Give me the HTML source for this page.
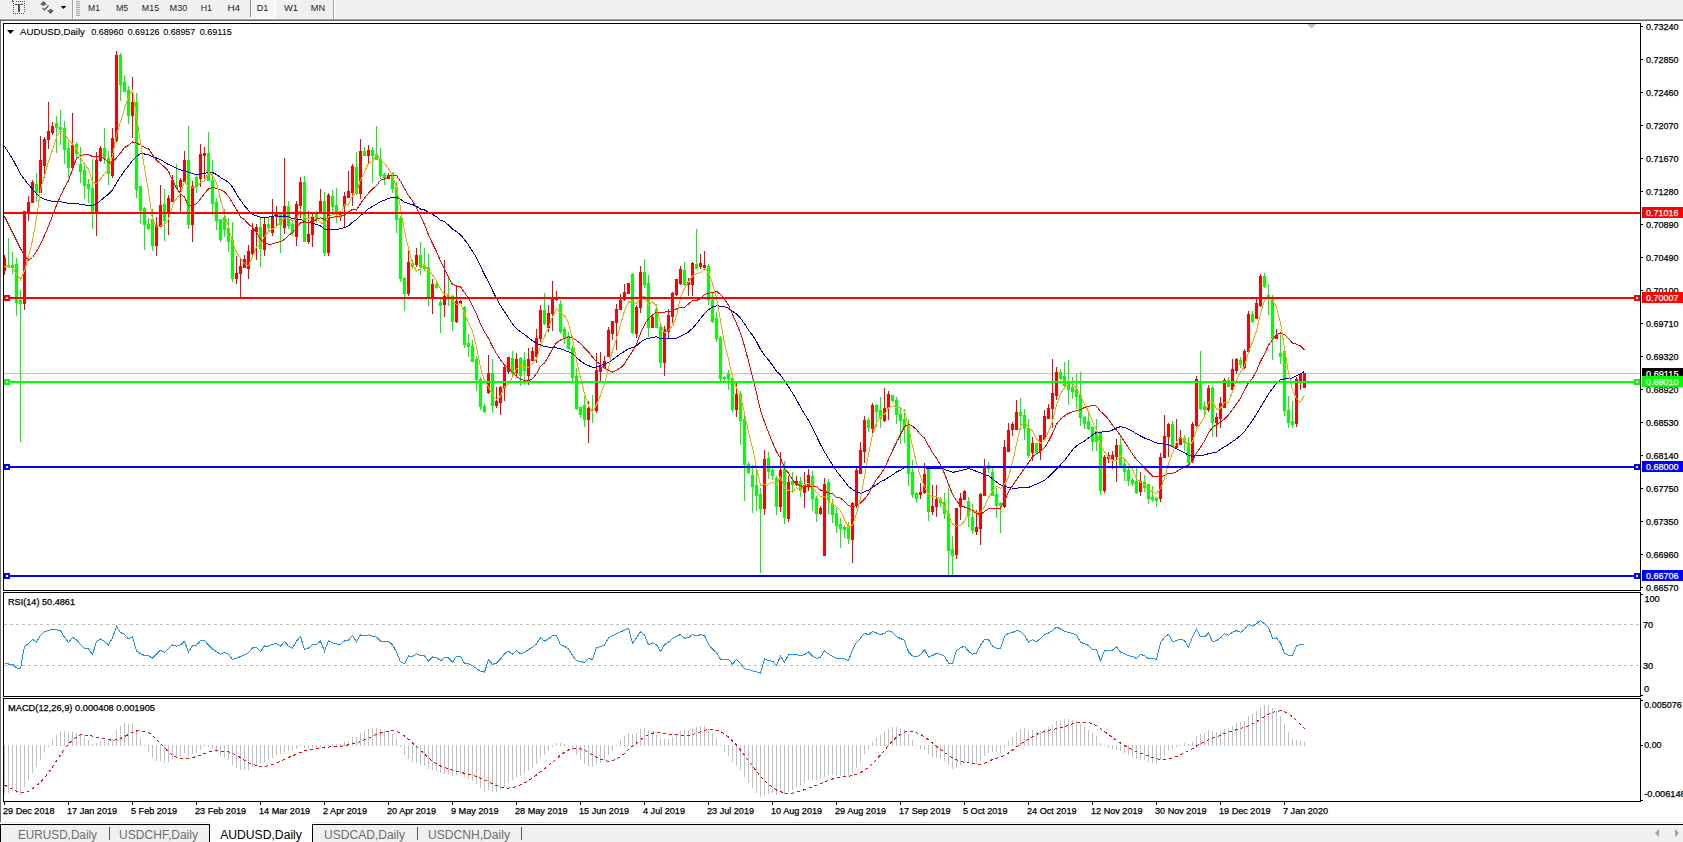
<!DOCTYPE html>
<html><head><meta charset="utf-8"><title>AUDUSD,Daily</title>
<style>html,body{margin:0;padding:0;background:#fff;overflow:hidden;width:1683px;height:842px}svg{display:block}</style>
</head><body>
<svg width="1683" height="842" viewBox="0 0 1683 842" font-family="&quot;Liberation Sans&quot;, sans-serif"><rect x="0" y="0" width="1683" height="842" fill="#ffffff"/>
<rect x="0" y="0" width="1683" height="19" fill="#f0f0f0"/>
<rect x="0" y="18" width="1683" height="1" fill="#f4f4f4"/>
<rect x="0" y="19" width="1683" height="1" fill="#a0a0a0"/>
<rect x="0" y="20" width="1683" height="1" fill="#696969"/>
<rect x="0" y="20" width="1" height="802" fill="#6e6e6e"/>
<rect x="0" y="822" width="1683" height="1" fill="#e3e3e3"/>
<rect x="0" y="824" width="1683" height="1" fill="#000000"/>
<rect x="0" y="825" width="1683" height="17" fill="#f0f0f0"/>
<rect x="16" y="1" width="1" height="1" fill="#555"/>
<rect x="18" y="1" width="1" height="1" fill="#555"/>
<rect x="20" y="1" width="1" height="1" fill="#555"/>
<rect x="22" y="1" width="1" height="1" fill="#555"/>
<rect x="24" y="1" width="1" height="1" fill="#555"/>
<rect x="13" y="13" width="1" height="1" fill="#555"/>
<rect x="15" y="13" width="1" height="1" fill="#555"/>
<rect x="17" y="13" width="1" height="1" fill="#555"/>
<rect x="19" y="13" width="1" height="1" fill="#555"/>
<rect x="21" y="13" width="1" height="1" fill="#555"/>
<rect x="23" y="13" width="1" height="1" fill="#555"/>
<rect x="13" y="3" width="1" height="1" fill="#555"/>
<rect x="13" y="5" width="1" height="1" fill="#555"/>
<rect x="13" y="7" width="1" height="1" fill="#555"/>
<rect x="13" y="9" width="1" height="1" fill="#555"/>
<rect x="13" y="11" width="1" height="1" fill="#555"/>
<rect x="24" y="3" width="1" height="1" fill="#555"/>
<rect x="24" y="5" width="1" height="1" fill="#555"/>
<rect x="24" y="7" width="1" height="1" fill="#555"/>
<rect x="24" y="9" width="1" height="1" fill="#555"/>
<rect x="24" y="11" width="1" height="1" fill="#555"/>
<rect x="12" y="0" width="1" height="2" fill="#555"/>
<rect x="12" y="1" width="2" height="1" fill="#555"/>
<rect x="15" y="4" width="8" height="1" fill="#555"/>
<rect x="18" y="4" width="2" height="8" fill="#555"/>
<polygon points="40,4.8 43.5,1 47,4.8" fill="#555"/>
<rect x="42.3" y="4.5" width="2.4" height="1.3" fill="#555"/>
<polyline points="42.5,8 44.5,10 48.5,5.5" fill="none" stroke="#555" stroke-width="1.2"/>
<polygon points="47,10.3 54,10.3 50.5,14" fill="#555"/>
<rect x="49.4" y="9.1" width="2.6" height="1.3" fill="#555"/>
<polygon points="60.5,6 66.5,6 63.5,9" fill="#111"/>
<rect x="72" y="0" width="1" height="19" fill="#a0a0a0"/>
<rect x="73" y="0" width="1" height="19" fill="#ffffff"/>
<rect x="76" y="1" width="4" height="1" fill="#a8a8a8"/>
<rect x="76" y="3" width="4" height="1" fill="#a8a8a8"/>
<rect x="76" y="5" width="4" height="1" fill="#a8a8a8"/>
<rect x="76" y="7" width="4" height="1" fill="#a8a8a8"/>
<rect x="76" y="9" width="4" height="1" fill="#a8a8a8"/>
<rect x="76" y="11" width="4" height="1" fill="#a8a8a8"/>
<rect x="76" y="13" width="4" height="1" fill="#a8a8a8"/>
<rect x="76" y="15" width="4" height="1" fill="#a8a8a8"/>
<rect x="250" y="0" width="1" height="17" fill="#8c8c8c"/>
<rect x="251" y="0" width="24" height="17" fill="#f5f5f5"/>
<rect x="250" y="17" width="26" height="1" fill="#ffffff"/>
<rect x="275" y="0" width="1" height="18" fill="#ffffff"/>
<rect x="333" y="0" width="1" height="19" fill="#a0a0a0"/>
<rect x="334" y="0" width="1" height="19" fill="#ffffff"/>
<text x="88" y="10.8" font-size="9.8" fill="#1c1c1c" textLength="12" lengthAdjust="spacingAndGlyphs">M1</text>
<text x="116" y="10.8" font-size="9.8" fill="#1c1c1c" textLength="12.2" lengthAdjust="spacingAndGlyphs">M5</text>
<text x="141.8" y="10.8" font-size="9.8" fill="#1c1c1c" textLength="17.3" lengthAdjust="spacingAndGlyphs">M15</text>
<text x="169.6" y="10.8" font-size="9.8" fill="#1c1c1c" textLength="17.7" lengthAdjust="spacingAndGlyphs">M30</text>
<text x="200.8" y="10.8" font-size="9.8" fill="#1c1c1c" textLength="11.2" lengthAdjust="spacingAndGlyphs">H1</text>
<text x="227.4" y="10.8" font-size="9.8" fill="#1c1c1c" textLength="12.7" lengthAdjust="spacingAndGlyphs">H4</text>
<text x="256.7" y="10.8" font-size="9.8" fill="#1c1c1c" textLength="11.6" lengthAdjust="spacingAndGlyphs">D1</text>
<text x="284.1" y="10.8" font-size="9.8" fill="#1c1c1c" textLength="13.9" lengthAdjust="spacingAndGlyphs">W1</text>
<text x="310.8" y="10.8" font-size="9.8" fill="#1c1c1c" textLength="14.2" lengthAdjust="spacingAndGlyphs">MN</text>
<g shape-rendering="crispEdges">
<rect x="4" y="373" width="1636" height="1" fill="#c0c0c0"/>
</g>
<g shape-rendering="crispEdges">
<rect x="4" y="255" width="1" height="20" fill="#ff0000"/>
<rect x="3" y="258" width="3" height="13" fill="#ff0000"/>
<rect x="8" y="238" width="1" height="30" fill="#00ff00"/>
<rect x="7" y="265" width="3" height="2" fill="#00ff00"/>
<rect x="12" y="252" width="1" height="22" fill="#00ff00"/>
<rect x="11" y="265" width="3" height="3" fill="#00ff00"/>
<rect x="16" y="258" width="1" height="58" fill="#00ff00"/>
<rect x="15" y="264" width="3" height="39" fill="#00ff00"/>
<rect x="20" y="290" width="1" height="152" fill="#00ff00"/>
<rect x="19" y="300" width="3" height="4" fill="#00ff00"/>
<rect x="24" y="211" width="1" height="99" fill="#ff0000"/>
<rect x="23" y="211" width="3" height="93" fill="#ff0000"/>
<rect x="28" y="196" width="1" height="25" fill="#ff0000"/>
<rect x="27" y="202" width="3" height="12" fill="#ff0000"/>
<rect x="32" y="180" width="1" height="23" fill="#ff0000"/>
<rect x="31" y="182" width="3" height="21" fill="#ff0000"/>
<rect x="36" y="173" width="1" height="29" fill="#00ff00"/>
<rect x="35" y="184" width="3" height="9" fill="#00ff00"/>
<rect x="40" y="136" width="1" height="57" fill="#ff0000"/>
<rect x="39" y="160" width="3" height="33" fill="#ff0000"/>
<rect x="44" y="137" width="1" height="41" fill="#ff0000"/>
<rect x="43" y="139" width="3" height="27" fill="#ff0000"/>
<rect x="48" y="102" width="1" height="47" fill="#ff0000"/>
<rect x="47" y="131" width="3" height="9" fill="#ff0000"/>
<rect x="52" y="122" width="1" height="13" fill="#ff0000"/>
<rect x="51" y="126" width="3" height="7" fill="#ff0000"/>
<rect x="56" y="116" width="1" height="37" fill="#00ff00"/>
<rect x="55" y="123" width="3" height="5" fill="#00ff00"/>
<rect x="60" y="110" width="1" height="35" fill="#00ff00"/>
<rect x="59" y="127" width="3" height="3" fill="#00ff00"/>
<rect x="64" y="121" width="1" height="43" fill="#00ff00"/>
<rect x="63" y="128" width="3" height="22" fill="#00ff00"/>
<rect x="68" y="142" width="1" height="36" fill="#00ff00"/>
<rect x="67" y="148" width="3" height="20" fill="#00ff00"/>
<rect x="72" y="113" width="1" height="55" fill="#ff0000"/>
<rect x="71" y="145" width="3" height="23" fill="#ff0000"/>
<rect x="76" y="142" width="1" height="18" fill="#00ff00"/>
<rect x="75" y="144" width="3" height="10" fill="#00ff00"/>
<rect x="80" y="147" width="1" height="36" fill="#00ff00"/>
<rect x="79" y="164" width="3" height="8" fill="#00ff00"/>
<rect x="84" y="163" width="1" height="36" fill="#00ff00"/>
<rect x="83" y="170" width="3" height="16" fill="#00ff00"/>
<rect x="88" y="179" width="1" height="24" fill="#00ff00"/>
<rect x="87" y="184" width="3" height="5" fill="#00ff00"/>
<rect x="92" y="159" width="1" height="70" fill="#00ff00"/>
<rect x="91" y="188" width="3" height="25" fill="#00ff00"/>
<rect x="96" y="152" width="1" height="84" fill="#ff0000"/>
<rect x="95" y="160" width="3" height="53" fill="#ff0000"/>
<rect x="100" y="146" width="1" height="16" fill="#ff0000"/>
<rect x="99" y="148" width="3" height="13" fill="#ff0000"/>
<rect x="104" y="128" width="1" height="36" fill="#00ff00"/>
<rect x="103" y="148" width="3" height="10" fill="#00ff00"/>
<rect x="108" y="151" width="1" height="34" fill="#00ff00"/>
<rect x="107" y="158" width="3" height="16" fill="#00ff00"/>
<rect x="112" y="128" width="1" height="50" fill="#ff0000"/>
<rect x="111" y="138" width="3" height="38" fill="#ff0000"/>
<rect x="116" y="51" width="1" height="91" fill="#ff0000"/>
<rect x="115" y="55" width="3" height="86" fill="#ff0000"/>
<rect x="120" y="53" width="1" height="48" fill="#00ff00"/>
<rect x="119" y="55" width="3" height="30" fill="#00ff00"/>
<rect x="124" y="75" width="1" height="17" fill="#00ff00"/>
<rect x="123" y="82" width="3" height="10" fill="#00ff00"/>
<rect x="128" y="86" width="1" height="38" fill="#00ff00"/>
<rect x="127" y="90" width="3" height="26" fill="#00ff00"/>
<rect x="132" y="77" width="1" height="61" fill="#ff0000"/>
<rect x="131" y="102" width="3" height="14" fill="#ff0000"/>
<rect x="136" y="93" width="1" height="105" fill="#00ff00"/>
<rect x="135" y="102" width="3" height="88" fill="#00ff00"/>
<rect x="140" y="186" width="1" height="38" fill="#00ff00"/>
<rect x="139" y="186" width="3" height="25" fill="#00ff00"/>
<rect x="144" y="207" width="1" height="43" fill="#00ff00"/>
<rect x="143" y="208" width="3" height="17" fill="#00ff00"/>
<rect x="148" y="218" width="1" height="12" fill="#00ff00"/>
<rect x="147" y="224" width="3" height="5" fill="#00ff00"/>
<rect x="152" y="209" width="1" height="42" fill="#00ff00"/>
<rect x="151" y="219" width="3" height="27" fill="#00ff00"/>
<rect x="156" y="217" width="1" height="39" fill="#ff0000"/>
<rect x="155" y="225" width="3" height="21" fill="#ff0000"/>
<rect x="160" y="185" width="1" height="42" fill="#ff0000"/>
<rect x="159" y="205" width="3" height="22" fill="#ff0000"/>
<rect x="164" y="189" width="1" height="52" fill="#00ff00"/>
<rect x="163" y="204" width="3" height="17" fill="#00ff00"/>
<rect x="168" y="195" width="1" height="40" fill="#ff0000"/>
<rect x="167" y="198" width="3" height="16" fill="#ff0000"/>
<rect x="172" y="175" width="1" height="27" fill="#ff0000"/>
<rect x="171" y="180" width="3" height="22" fill="#ff0000"/>
<rect x="176" y="164" width="1" height="24" fill="#00ff00"/>
<rect x="175" y="185" width="3" height="3" fill="#00ff00"/>
<rect x="180" y="178" width="1" height="35" fill="#ff0000"/>
<rect x="179" y="180" width="3" height="7" fill="#ff0000"/>
<rect x="184" y="151" width="1" height="31" fill="#ff0000"/>
<rect x="183" y="160" width="3" height="22" fill="#ff0000"/>
<rect x="188" y="126" width="1" height="103" fill="#00ff00"/>
<rect x="187" y="160" width="3" height="65" fill="#00ff00"/>
<rect x="192" y="181" width="1" height="61" fill="#ff0000"/>
<rect x="191" y="186" width="3" height="39" fill="#ff0000"/>
<rect x="196" y="175" width="1" height="18" fill="#00ff00"/>
<rect x="195" y="177" width="3" height="10" fill="#00ff00"/>
<rect x="200" y="144" width="1" height="43" fill="#ff0000"/>
<rect x="199" y="154" width="3" height="25" fill="#ff0000"/>
<rect x="204" y="147" width="1" height="32" fill="#ff0000"/>
<rect x="203" y="153" width="3" height="3" fill="#ff0000"/>
<rect x="208" y="132" width="1" height="49" fill="#00ff00"/>
<rect x="207" y="153" width="3" height="28" fill="#00ff00"/>
<rect x="212" y="160" width="1" height="55" fill="#00ff00"/>
<rect x="211" y="180" width="3" height="24" fill="#00ff00"/>
<rect x="216" y="198" width="1" height="32" fill="#00ff00"/>
<rect x="215" y="202" width="3" height="19" fill="#00ff00"/>
<rect x="220" y="219" width="1" height="23" fill="#00ff00"/>
<rect x="219" y="219" width="3" height="21" fill="#00ff00"/>
<rect x="224" y="209" width="1" height="28" fill="#00ff00"/>
<rect x="223" y="217" width="3" height="13" fill="#00ff00"/>
<rect x="228" y="218" width="1" height="34" fill="#00ff00"/>
<rect x="227" y="228" width="3" height="14" fill="#00ff00"/>
<rect x="232" y="222" width="1" height="60" fill="#00ff00"/>
<rect x="231" y="240" width="3" height="39" fill="#00ff00"/>
<rect x="236" y="256" width="1" height="28" fill="#ff0000"/>
<rect x="235" y="273" width="3" height="6" fill="#ff0000"/>
<rect x="240" y="257" width="1" height="42" fill="#ff0000"/>
<rect x="239" y="266" width="3" height="8" fill="#ff0000"/>
<rect x="244" y="255" width="1" height="13" fill="#ff0000"/>
<rect x="243" y="259" width="3" height="9" fill="#ff0000"/>
<rect x="248" y="245" width="1" height="34" fill="#ff0000"/>
<rect x="247" y="251" width="3" height="18" fill="#ff0000"/>
<rect x="252" y="223" width="1" height="32" fill="#ff0000"/>
<rect x="251" y="230" width="3" height="24" fill="#ff0000"/>
<rect x="256" y="224" width="1" height="36" fill="#ff0000"/>
<rect x="255" y="227" width="3" height="5" fill="#ff0000"/>
<rect x="260" y="217" width="1" height="50" fill="#00ff00"/>
<rect x="259" y="227" width="3" height="22" fill="#00ff00"/>
<rect x="264" y="218" width="1" height="38" fill="#ff0000"/>
<rect x="263" y="224" width="3" height="26" fill="#ff0000"/>
<rect x="268" y="218" width="1" height="13" fill="#00ff00"/>
<rect x="267" y="224" width="3" height="4" fill="#00ff00"/>
<rect x="272" y="199" width="1" height="37" fill="#ff0000"/>
<rect x="271" y="217" width="3" height="16" fill="#ff0000"/>
<rect x="276" y="206" width="1" height="20" fill="#ff0000"/>
<rect x="275" y="214" width="3" height="3" fill="#ff0000"/>
<rect x="280" y="213" width="1" height="40" fill="#00ff00"/>
<rect x="279" y="214" width="3" height="11" fill="#00ff00"/>
<rect x="284" y="158" width="1" height="76" fill="#ff0000"/>
<rect x="283" y="206" width="3" height="22" fill="#ff0000"/>
<rect x="288" y="201" width="1" height="28" fill="#00ff00"/>
<rect x="287" y="206" width="3" height="20" fill="#00ff00"/>
<rect x="292" y="220" width="1" height="16" fill="#00ff00"/>
<rect x="291" y="224" width="3" height="9" fill="#00ff00"/>
<rect x="296" y="201" width="1" height="45" fill="#ff0000"/>
<rect x="295" y="204" width="3" height="33" fill="#ff0000"/>
<rect x="300" y="177" width="1" height="41" fill="#ff0000"/>
<rect x="299" y="182" width="3" height="24" fill="#ff0000"/>
<rect x="304" y="176" width="1" height="66" fill="#00ff00"/>
<rect x="303" y="182" width="3" height="60" fill="#00ff00"/>
<rect x="308" y="211" width="1" height="33" fill="#ff0000"/>
<rect x="307" y="234" width="3" height="8" fill="#ff0000"/>
<rect x="312" y="213" width="1" height="34" fill="#ff0000"/>
<rect x="311" y="217" width="3" height="18" fill="#ff0000"/>
<rect x="316" y="211" width="1" height="12" fill="#00ff00"/>
<rect x="315" y="212" width="3" height="6" fill="#00ff00"/>
<rect x="320" y="189" width="1" height="23" fill="#ff0000"/>
<rect x="319" y="201" width="3" height="11" fill="#ff0000"/>
<rect x="324" y="192" width="1" height="64" fill="#00ff00"/>
<rect x="323" y="201" width="3" height="52" fill="#00ff00"/>
<rect x="328" y="193" width="1" height="63" fill="#ff0000"/>
<rect x="327" y="195" width="3" height="58" fill="#ff0000"/>
<rect x="332" y="190" width="1" height="22" fill="#00ff00"/>
<rect x="331" y="196" width="3" height="11" fill="#00ff00"/>
<rect x="336" y="188" width="1" height="35" fill="#00ff00"/>
<rect x="335" y="205" width="3" height="8" fill="#00ff00"/>
<rect x="340" y="211" width="1" height="10" fill="#ff0000"/>
<rect x="339" y="213" width="3" height="3" fill="#ff0000"/>
<rect x="344" y="192" width="1" height="35" fill="#ff0000"/>
<rect x="343" y="196" width="3" height="10" fill="#ff0000"/>
<rect x="348" y="171" width="1" height="27" fill="#ff0000"/>
<rect x="347" y="191" width="3" height="7" fill="#ff0000"/>
<rect x="352" y="164" width="1" height="42" fill="#ff0000"/>
<rect x="351" y="166" width="3" height="27" fill="#ff0000"/>
<rect x="356" y="152" width="1" height="43" fill="#00ff00"/>
<rect x="355" y="167" width="3" height="27" fill="#00ff00"/>
<rect x="360" y="139" width="1" height="60" fill="#ff0000"/>
<rect x="359" y="151" width="3" height="43" fill="#ff0000"/>
<rect x="364" y="147" width="1" height="9" fill="#00ff00"/>
<rect x="363" y="151" width="3" height="5" fill="#00ff00"/>
<rect x="368" y="145" width="1" height="18" fill="#ff0000"/>
<rect x="367" y="150" width="3" height="6" fill="#ff0000"/>
<rect x="372" y="147" width="1" height="36" fill="#00ff00"/>
<rect x="371" y="150" width="3" height="6" fill="#00ff00"/>
<rect x="376" y="126" width="1" height="34" fill="#00ff00"/>
<rect x="375" y="154" width="3" height="6" fill="#00ff00"/>
<rect x="380" y="148" width="1" height="31" fill="#00ff00"/>
<rect x="379" y="159" width="3" height="17" fill="#00ff00"/>
<rect x="384" y="173" width="1" height="12" fill="#00ff00"/>
<rect x="383" y="174" width="3" height="4" fill="#00ff00"/>
<rect x="388" y="173" width="1" height="6" fill="#ff0000"/>
<rect x="387" y="175" width="3" height="4" fill="#ff0000"/>
<rect x="392" y="172" width="1" height="21" fill="#00ff00"/>
<rect x="391" y="173" width="3" height="16" fill="#00ff00"/>
<rect x="396" y="182" width="1" height="51" fill="#00ff00"/>
<rect x="395" y="187" width="3" height="33" fill="#00ff00"/>
<rect x="400" y="216" width="1" height="66" fill="#00ff00"/>
<rect x="399" y="218" width="3" height="61" fill="#00ff00"/>
<rect x="404" y="277" width="1" height="34" fill="#00ff00"/>
<rect x="403" y="278" width="3" height="16" fill="#00ff00"/>
<rect x="408" y="250" width="1" height="46" fill="#ff0000"/>
<rect x="407" y="262" width="3" height="32" fill="#ff0000"/>
<rect x="412" y="260" width="1" height="9" fill="#00ff00"/>
<rect x="411" y="263" width="3" height="4" fill="#00ff00"/>
<rect x="416" y="248" width="1" height="19" fill="#ff0000"/>
<rect x="415" y="255" width="3" height="10" fill="#ff0000"/>
<rect x="420" y="242" width="1" height="33" fill="#00ff00"/>
<rect x="419" y="255" width="3" height="12" fill="#00ff00"/>
<rect x="424" y="248" width="1" height="23" fill="#00ff00"/>
<rect x="423" y="265" width="3" height="4" fill="#00ff00"/>
<rect x="428" y="254" width="1" height="52" fill="#00ff00"/>
<rect x="427" y="267" width="3" height="32" fill="#00ff00"/>
<rect x="432" y="279" width="1" height="35" fill="#ff0000"/>
<rect x="431" y="284" width="3" height="15" fill="#ff0000"/>
<rect x="436" y="282" width="1" height="7" fill="#00ff00"/>
<rect x="435" y="284" width="3" height="4" fill="#00ff00"/>
<rect x="440" y="298" width="1" height="35" fill="#00ff00"/>
<rect x="439" y="302" width="3" height="4" fill="#00ff00"/>
<rect x="444" y="260" width="1" height="57" fill="#ff0000"/>
<rect x="443" y="296" width="3" height="9" fill="#ff0000"/>
<rect x="448" y="278" width="1" height="28" fill="#00ff00"/>
<rect x="447" y="295" width="3" height="3" fill="#00ff00"/>
<rect x="452" y="295" width="1" height="36" fill="#00ff00"/>
<rect x="451" y="296" width="3" height="26" fill="#00ff00"/>
<rect x="456" y="285" width="1" height="38" fill="#ff0000"/>
<rect x="455" y="301" width="3" height="21" fill="#ff0000"/>
<rect x="460" y="300" width="1" height="5" fill="#ff0000"/>
<rect x="459" y="301" width="3" height="3" fill="#ff0000"/>
<rect x="464" y="306" width="1" height="42" fill="#00ff00"/>
<rect x="463" y="307" width="3" height="38" fill="#00ff00"/>
<rect x="468" y="334" width="1" height="23" fill="#00ff00"/>
<rect x="467" y="343" width="3" height="4" fill="#00ff00"/>
<rect x="472" y="340" width="1" height="22" fill="#00ff00"/>
<rect x="471" y="346" width="3" height="16" fill="#00ff00"/>
<rect x="476" y="356" width="1" height="35" fill="#00ff00"/>
<rect x="475" y="359" width="3" height="21" fill="#00ff00"/>
<rect x="480" y="377" width="1" height="33" fill="#00ff00"/>
<rect x="479" y="379" width="3" height="28" fill="#00ff00"/>
<rect x="484" y="404" width="1" height="9" fill="#00ff00"/>
<rect x="483" y="406" width="3" height="6" fill="#00ff00"/>
<rect x="488" y="355" width="1" height="39" fill="#ff0000"/>
<rect x="487" y="373" width="3" height="20" fill="#ff0000"/>
<rect x="492" y="359" width="1" height="54" fill="#00ff00"/>
<rect x="491" y="373" width="3" height="33" fill="#00ff00"/>
<rect x="496" y="387" width="1" height="21" fill="#ff0000"/>
<rect x="495" y="401" width="3" height="5" fill="#ff0000"/>
<rect x="500" y="386" width="1" height="29" fill="#ff0000"/>
<rect x="499" y="387" width="3" height="16" fill="#ff0000"/>
<rect x="504" y="366" width="1" height="35" fill="#ff0000"/>
<rect x="503" y="367" width="3" height="21" fill="#ff0000"/>
<rect x="508" y="357" width="1" height="17" fill="#ff0000"/>
<rect x="507" y="357" width="3" height="15" fill="#ff0000"/>
<rect x="512" y="351" width="1" height="25" fill="#00ff00"/>
<rect x="511" y="358" width="3" height="15" fill="#00ff00"/>
<rect x="516" y="353" width="1" height="23" fill="#ff0000"/>
<rect x="515" y="359" width="3" height="14" fill="#ff0000"/>
<rect x="520" y="357" width="1" height="29" fill="#00ff00"/>
<rect x="519" y="358" width="3" height="18" fill="#00ff00"/>
<rect x="524" y="352" width="1" height="33" fill="#00ff00"/>
<rect x="523" y="360" width="3" height="11" fill="#00ff00"/>
<rect x="528" y="348" width="1" height="37" fill="#ff0000"/>
<rect x="527" y="359" width="3" height="17" fill="#ff0000"/>
<rect x="532" y="347" width="1" height="14" fill="#ff0000"/>
<rect x="531" y="351" width="3" height="10" fill="#ff0000"/>
<rect x="536" y="329" width="1" height="34" fill="#ff0000"/>
<rect x="535" y="338" width="3" height="19" fill="#ff0000"/>
<rect x="540" y="305" width="1" height="37" fill="#ff0000"/>
<rect x="539" y="310" width="3" height="29" fill="#ff0000"/>
<rect x="544" y="293" width="1" height="32" fill="#00ff00"/>
<rect x="543" y="310" width="3" height="14" fill="#00ff00"/>
<rect x="548" y="305" width="1" height="27" fill="#ff0000"/>
<rect x="547" y="313" width="3" height="15" fill="#ff0000"/>
<rect x="552" y="281" width="1" height="50" fill="#ff0000"/>
<rect x="551" y="298" width="3" height="16" fill="#ff0000"/>
<rect x="556" y="291" width="1" height="10" fill="#ff0000"/>
<rect x="555" y="297" width="3" height="3" fill="#ff0000"/>
<rect x="560" y="300" width="1" height="34" fill="#00ff00"/>
<rect x="559" y="304" width="3" height="28" fill="#00ff00"/>
<rect x="564" y="327" width="1" height="17" fill="#00ff00"/>
<rect x="563" y="329" width="3" height="9" fill="#00ff00"/>
<rect x="568" y="332" width="1" height="17" fill="#00ff00"/>
<rect x="567" y="336" width="3" height="13" fill="#00ff00"/>
<rect x="572" y="346" width="1" height="36" fill="#00ff00"/>
<rect x="571" y="348" width="3" height="30" fill="#00ff00"/>
<rect x="576" y="368" width="1" height="42" fill="#00ff00"/>
<rect x="575" y="376" width="3" height="33" fill="#00ff00"/>
<rect x="580" y="407" width="1" height="11" fill="#00ff00"/>
<rect x="579" y="407" width="3" height="8" fill="#00ff00"/>
<rect x="584" y="396" width="1" height="31" fill="#00ff00"/>
<rect x="583" y="405" width="3" height="15" fill="#00ff00"/>
<rect x="588" y="401" width="1" height="42" fill="#ff0000"/>
<rect x="587" y="408" width="3" height="12" fill="#ff0000"/>
<rect x="592" y="395" width="1" height="28" fill="#00ff00"/>
<rect x="591" y="409" width="3" height="2" fill="#00ff00"/>
<rect x="596" y="353" width="1" height="60" fill="#ff0000"/>
<rect x="595" y="370" width="3" height="41" fill="#ff0000"/>
<rect x="600" y="352" width="1" height="30" fill="#ff0000"/>
<rect x="599" y="367" width="3" height="5" fill="#ff0000"/>
<rect x="604" y="356" width="1" height="13" fill="#ff0000"/>
<rect x="603" y="361" width="3" height="7" fill="#ff0000"/>
<rect x="608" y="327" width="1" height="30" fill="#ff0000"/>
<rect x="607" y="330" width="3" height="27" fill="#ff0000"/>
<rect x="612" y="321" width="1" height="19" fill="#ff0000"/>
<rect x="611" y="321" width="3" height="13" fill="#ff0000"/>
<rect x="616" y="304" width="1" height="46" fill="#ff0000"/>
<rect x="615" y="309" width="3" height="14" fill="#ff0000"/>
<rect x="620" y="294" width="1" height="16" fill="#ff0000"/>
<rect x="619" y="300" width="3" height="10" fill="#ff0000"/>
<rect x="624" y="284" width="1" height="17" fill="#ff0000"/>
<rect x="623" y="292" width="3" height="8" fill="#ff0000"/>
<rect x="628" y="283" width="1" height="11" fill="#ff0000"/>
<rect x="627" y="283" width="3" height="11" fill="#ff0000"/>
<rect x="632" y="273" width="1" height="61" fill="#00ff00"/>
<rect x="631" y="274" width="3" height="59" fill="#00ff00"/>
<rect x="636" y="305" width="1" height="33" fill="#ff0000"/>
<rect x="635" y="307" width="3" height="27" fill="#ff0000"/>
<rect x="640" y="266" width="1" height="47" fill="#ff0000"/>
<rect x="639" y="272" width="3" height="36" fill="#ff0000"/>
<rect x="644" y="259" width="1" height="29" fill="#00ff00"/>
<rect x="643" y="272" width="3" height="13" fill="#00ff00"/>
<rect x="648" y="275" width="1" height="62" fill="#00ff00"/>
<rect x="647" y="283" width="3" height="45" fill="#00ff00"/>
<rect x="652" y="316" width="1" height="12" fill="#ff0000"/>
<rect x="651" y="317" width="3" height="11" fill="#ff0000"/>
<rect x="656" y="304" width="1" height="24" fill="#00ff00"/>
<rect x="655" y="309" width="3" height="19" fill="#00ff00"/>
<rect x="660" y="324" width="1" height="44" fill="#00ff00"/>
<rect x="659" y="327" width="3" height="36" fill="#00ff00"/>
<rect x="664" y="326" width="1" height="50" fill="#ff0000"/>
<rect x="663" y="329" width="3" height="34" fill="#ff0000"/>
<rect x="668" y="309" width="1" height="30" fill="#ff0000"/>
<rect x="667" y="315" width="3" height="17" fill="#ff0000"/>
<rect x="672" y="292" width="1" height="31" fill="#ff0000"/>
<rect x="671" y="293" width="3" height="24" fill="#ff0000"/>
<rect x="676" y="279" width="1" height="17" fill="#ff0000"/>
<rect x="675" y="279" width="3" height="16" fill="#ff0000"/>
<rect x="680" y="266" width="1" height="19" fill="#ff0000"/>
<rect x="679" y="269" width="3" height="15" fill="#ff0000"/>
<rect x="684" y="262" width="1" height="24" fill="#00ff00"/>
<rect x="683" y="270" width="3" height="15" fill="#00ff00"/>
<rect x="688" y="278" width="1" height="18" fill="#ff0000"/>
<rect x="687" y="282" width="3" height="3" fill="#ff0000"/>
<rect x="692" y="262" width="1" height="34" fill="#ff0000"/>
<rect x="691" y="263" width="3" height="22" fill="#ff0000"/>
<rect x="696" y="229" width="1" height="40" fill="#00ff00"/>
<rect x="695" y="264" width="3" height="5" fill="#00ff00"/>
<rect x="700" y="254" width="1" height="15" fill="#ff0000"/>
<rect x="699" y="263" width="3" height="4" fill="#ff0000"/>
<rect x="704" y="251" width="1" height="19" fill="#ff0000"/>
<rect x="703" y="265" width="3" height="3" fill="#ff0000"/>
<rect x="708" y="264" width="1" height="41" fill="#00ff00"/>
<rect x="707" y="266" width="3" height="34" fill="#00ff00"/>
<rect x="712" y="293" width="1" height="30" fill="#00ff00"/>
<rect x="711" y="300" width="3" height="22" fill="#00ff00"/>
<rect x="716" y="312" width="1" height="30" fill="#00ff00"/>
<rect x="715" y="318" width="3" height="21" fill="#00ff00"/>
<rect x="720" y="336" width="1" height="46" fill="#00ff00"/>
<rect x="719" y="338" width="3" height="41" fill="#00ff00"/>
<rect x="724" y="376" width="1" height="6" fill="#00ff00"/>
<rect x="723" y="377" width="3" height="2" fill="#00ff00"/>
<rect x="728" y="370" width="1" height="20" fill="#00ff00"/>
<rect x="727" y="374" width="3" height="5" fill="#00ff00"/>
<rect x="732" y="376" width="1" height="36" fill="#00ff00"/>
<rect x="731" y="378" width="3" height="32" fill="#00ff00"/>
<rect x="736" y="383" width="1" height="34" fill="#ff0000"/>
<rect x="735" y="394" width="3" height="16" fill="#ff0000"/>
<rect x="740" y="391" width="1" height="54" fill="#00ff00"/>
<rect x="739" y="394" width="3" height="27" fill="#00ff00"/>
<rect x="744" y="416" width="1" height="85" fill="#00ff00"/>
<rect x="743" y="419" width="3" height="46" fill="#00ff00"/>
<rect x="748" y="462" width="1" height="12" fill="#00ff00"/>
<rect x="747" y="464" width="3" height="9" fill="#00ff00"/>
<rect x="752" y="465" width="1" height="48" fill="#00ff00"/>
<rect x="751" y="475" width="3" height="12" fill="#00ff00"/>
<rect x="756" y="470" width="1" height="41" fill="#00ff00"/>
<rect x="755" y="485" width="3" height="11" fill="#00ff00"/>
<rect x="760" y="488" width="1" height="85" fill="#00ff00"/>
<rect x="759" y="494" width="3" height="15" fill="#00ff00"/>
<rect x="764" y="450" width="1" height="65" fill="#ff0000"/>
<rect x="763" y="459" width="3" height="50" fill="#ff0000"/>
<rect x="768" y="452" width="1" height="27" fill="#00ff00"/>
<rect x="767" y="458" width="3" height="14" fill="#00ff00"/>
<rect x="772" y="468" width="1" height="12" fill="#00ff00"/>
<rect x="771" y="470" width="3" height="6" fill="#00ff00"/>
<rect x="776" y="476" width="1" height="39" fill="#00ff00"/>
<rect x="775" y="478" width="3" height="29" fill="#00ff00"/>
<rect x="780" y="452" width="1" height="60" fill="#ff0000"/>
<rect x="779" y="470" width="3" height="37" fill="#ff0000"/>
<rect x="784" y="461" width="1" height="63" fill="#00ff00"/>
<rect x="783" y="469" width="3" height="49" fill="#00ff00"/>
<rect x="788" y="476" width="1" height="46" fill="#ff0000"/>
<rect x="787" y="482" width="3" height="37" fill="#ff0000"/>
<rect x="792" y="472" width="1" height="19" fill="#00ff00"/>
<rect x="791" y="481" width="3" height="4" fill="#00ff00"/>
<rect x="796" y="476" width="1" height="10" fill="#ff0000"/>
<rect x="795" y="481" width="3" height="4" fill="#ff0000"/>
<rect x="800" y="477" width="1" height="20" fill="#00ff00"/>
<rect x="799" y="481" width="3" height="10" fill="#00ff00"/>
<rect x="804" y="472" width="1" height="36" fill="#ff0000"/>
<rect x="803" y="485" width="3" height="8" fill="#ff0000"/>
<rect x="808" y="469" width="1" height="22" fill="#ff0000"/>
<rect x="807" y="475" width="3" height="11" fill="#ff0000"/>
<rect x="812" y="471" width="1" height="40" fill="#00ff00"/>
<rect x="811" y="476" width="3" height="23" fill="#00ff00"/>
<rect x="816" y="496" width="1" height="26" fill="#00ff00"/>
<rect x="815" y="498" width="3" height="16" fill="#00ff00"/>
<rect x="820" y="506" width="1" height="9" fill="#ff0000"/>
<rect x="819" y="508" width="3" height="6" fill="#ff0000"/>
<rect x="824" y="478" width="1" height="78" fill="#ff0000"/>
<rect x="823" y="484" width="3" height="72" fill="#ff0000"/>
<rect x="828" y="479" width="1" height="35" fill="#00ff00"/>
<rect x="827" y="482" width="3" height="19" fill="#00ff00"/>
<rect x="832" y="499" width="1" height="24" fill="#00ff00"/>
<rect x="831" y="504" width="3" height="11" fill="#00ff00"/>
<rect x="836" y="508" width="1" height="25" fill="#00ff00"/>
<rect x="835" y="513" width="3" height="13" fill="#00ff00"/>
<rect x="840" y="518" width="1" height="30" fill="#00ff00"/>
<rect x="839" y="524" width="3" height="5" fill="#00ff00"/>
<rect x="844" y="525" width="1" height="13" fill="#00ff00"/>
<rect x="843" y="527" width="3" height="3" fill="#00ff00"/>
<rect x="848" y="522" width="1" height="22" fill="#00ff00"/>
<rect x="847" y="527" width="3" height="12" fill="#00ff00"/>
<rect x="852" y="502" width="1" height="61" fill="#ff0000"/>
<rect x="851" y="503" width="3" height="37" fill="#ff0000"/>
<rect x="856" y="468" width="1" height="40" fill="#ff0000"/>
<rect x="855" y="470" width="3" height="36" fill="#ff0000"/>
<rect x="860" y="442" width="1" height="32" fill="#ff0000"/>
<rect x="859" y="450" width="3" height="24" fill="#ff0000"/>
<rect x="864" y="416" width="1" height="47" fill="#ff0000"/>
<rect x="863" y="420" width="3" height="32" fill="#ff0000"/>
<rect x="868" y="418" width="1" height="14" fill="#00ff00"/>
<rect x="867" y="420" width="3" height="8" fill="#00ff00"/>
<rect x="872" y="403" width="1" height="32" fill="#ff0000"/>
<rect x="871" y="405" width="3" height="24" fill="#ff0000"/>
<rect x="876" y="404" width="1" height="23" fill="#00ff00"/>
<rect x="875" y="405" width="3" height="7" fill="#00ff00"/>
<rect x="880" y="397" width="1" height="31" fill="#00ff00"/>
<rect x="879" y="410" width="3" height="9" fill="#00ff00"/>
<rect x="884" y="388" width="1" height="34" fill="#ff0000"/>
<rect x="883" y="408" width="3" height="13" fill="#ff0000"/>
<rect x="888" y="391" width="1" height="29" fill="#ff0000"/>
<rect x="887" y="394" width="3" height="14" fill="#ff0000"/>
<rect x="892" y="395" width="1" height="7" fill="#00ff00"/>
<rect x="891" y="395" width="3" height="6" fill="#00ff00"/>
<rect x="896" y="397" width="1" height="27" fill="#00ff00"/>
<rect x="895" y="400" width="3" height="15" fill="#00ff00"/>
<rect x="900" y="408" width="1" height="36" fill="#00ff00"/>
<rect x="899" y="414" width="3" height="7" fill="#00ff00"/>
<rect x="904" y="409" width="1" height="34" fill="#00ff00"/>
<rect x="903" y="419" width="3" height="8" fill="#00ff00"/>
<rect x="908" y="419" width="1" height="67" fill="#00ff00"/>
<rect x="907" y="426" width="3" height="48" fill="#00ff00"/>
<rect x="912" y="460" width="1" height="38" fill="#00ff00"/>
<rect x="911" y="472" width="3" height="23" fill="#00ff00"/>
<rect x="916" y="492" width="1" height="11" fill="#00ff00"/>
<rect x="915" y="493" width="3" height="6" fill="#00ff00"/>
<rect x="920" y="483" width="1" height="16" fill="#ff0000"/>
<rect x="919" y="492" width="3" height="3" fill="#ff0000"/>
<rect x="924" y="463" width="1" height="31" fill="#ff0000"/>
<rect x="923" y="474" width="3" height="19" fill="#ff0000"/>
<rect x="928" y="467" width="1" height="54" fill="#00ff00"/>
<rect x="927" y="469" width="3" height="43" fill="#00ff00"/>
<rect x="932" y="485" width="1" height="30" fill="#ff0000"/>
<rect x="931" y="506" width="3" height="6" fill="#ff0000"/>
<rect x="936" y="485" width="1" height="32" fill="#ff0000"/>
<rect x="935" y="499" width="3" height="8" fill="#ff0000"/>
<rect x="940" y="497" width="1" height="10" fill="#00ff00"/>
<rect x="939" y="499" width="3" height="4" fill="#00ff00"/>
<rect x="944" y="493" width="1" height="26" fill="#00ff00"/>
<rect x="943" y="502" width="3" height="12" fill="#00ff00"/>
<rect x="948" y="488" width="1" height="88" fill="#00ff00"/>
<rect x="947" y="513" width="3" height="38" fill="#00ff00"/>
<rect x="952" y="536" width="1" height="40" fill="#00ff00"/>
<rect x="951" y="549" width="3" height="7" fill="#00ff00"/>
<rect x="956" y="508" width="1" height="51" fill="#ff0000"/>
<rect x="955" y="508" width="3" height="47" fill="#ff0000"/>
<rect x="960" y="493" width="1" height="27" fill="#ff0000"/>
<rect x="959" y="498" width="3" height="9" fill="#ff0000"/>
<rect x="964" y="490" width="1" height="10" fill="#ff0000"/>
<rect x="963" y="491" width="3" height="9" fill="#ff0000"/>
<rect x="968" y="497" width="1" height="30" fill="#00ff00"/>
<rect x="967" y="501" width="3" height="15" fill="#00ff00"/>
<rect x="972" y="504" width="1" height="30" fill="#00ff00"/>
<rect x="971" y="517" width="3" height="14" fill="#00ff00"/>
<rect x="976" y="510" width="1" height="25" fill="#ff0000"/>
<rect x="975" y="527" width="3" height="5" fill="#ff0000"/>
<rect x="980" y="493" width="1" height="52" fill="#ff0000"/>
<rect x="979" y="494" width="3" height="35" fill="#ff0000"/>
<rect x="984" y="459" width="1" height="37" fill="#ff0000"/>
<rect x="983" y="466" width="3" height="30" fill="#ff0000"/>
<rect x="988" y="462" width="1" height="11" fill="#00ff00"/>
<rect x="987" y="465" width="3" height="4" fill="#00ff00"/>
<rect x="992" y="468" width="1" height="28" fill="#00ff00"/>
<rect x="991" y="472" width="3" height="24" fill="#00ff00"/>
<rect x="996" y="488" width="1" height="30" fill="#00ff00"/>
<rect x="995" y="494" width="3" height="12" fill="#00ff00"/>
<rect x="1000" y="502" width="1" height="31" fill="#00ff00"/>
<rect x="999" y="503" width="3" height="3" fill="#00ff00"/>
<rect x="1004" y="440" width="1" height="68" fill="#ff0000"/>
<rect x="1003" y="447" width="3" height="60" fill="#ff0000"/>
<rect x="1008" y="423" width="1" height="29" fill="#ff0000"/>
<rect x="1007" y="430" width="3" height="22" fill="#ff0000"/>
<rect x="1012" y="422" width="1" height="14" fill="#ff0000"/>
<rect x="1011" y="424" width="3" height="6" fill="#ff0000"/>
<rect x="1016" y="400" width="1" height="30" fill="#ff0000"/>
<rect x="1015" y="412" width="3" height="18" fill="#ff0000"/>
<rect x="1020" y="398" width="1" height="32" fill="#00ff00"/>
<rect x="1019" y="412" width="3" height="4" fill="#00ff00"/>
<rect x="1024" y="409" width="1" height="31" fill="#00ff00"/>
<rect x="1023" y="415" width="3" height="14" fill="#00ff00"/>
<rect x="1028" y="419" width="1" height="39" fill="#00ff00"/>
<rect x="1027" y="428" width="3" height="28" fill="#00ff00"/>
<rect x="1032" y="437" width="1" height="24" fill="#ff0000"/>
<rect x="1031" y="443" width="3" height="10" fill="#ff0000"/>
<rect x="1036" y="443" width="1" height="11" fill="#00ff00"/>
<rect x="1035" y="443" width="3" height="10" fill="#00ff00"/>
<rect x="1040" y="435" width="1" height="25" fill="#ff0000"/>
<rect x="1039" y="435" width="3" height="16" fill="#ff0000"/>
<rect x="1044" y="410" width="1" height="30" fill="#ff0000"/>
<rect x="1043" y="416" width="3" height="24" fill="#ff0000"/>
<rect x="1048" y="404" width="1" height="15" fill="#ff0000"/>
<rect x="1047" y="408" width="3" height="11" fill="#ff0000"/>
<rect x="1052" y="359" width="1" height="69" fill="#ff0000"/>
<rect x="1051" y="393" width="3" height="16" fill="#ff0000"/>
<rect x="1056" y="367" width="1" height="33" fill="#ff0000"/>
<rect x="1055" y="372" width="3" height="24" fill="#ff0000"/>
<rect x="1060" y="369" width="1" height="11" fill="#00ff00"/>
<rect x="1059" y="372" width="3" height="7" fill="#00ff00"/>
<rect x="1064" y="362" width="1" height="25" fill="#00ff00"/>
<rect x="1063" y="376" width="3" height="10" fill="#00ff00"/>
<rect x="1068" y="360" width="1" height="45" fill="#00ff00"/>
<rect x="1067" y="383" width="3" height="7" fill="#00ff00"/>
<rect x="1072" y="377" width="1" height="22" fill="#00ff00"/>
<rect x="1071" y="387" width="3" height="5" fill="#00ff00"/>
<rect x="1076" y="374" width="1" height="35" fill="#00ff00"/>
<rect x="1075" y="389" width="3" height="8" fill="#00ff00"/>
<rect x="1080" y="372" width="1" height="54" fill="#00ff00"/>
<rect x="1079" y="395" width="3" height="23" fill="#00ff00"/>
<rect x="1084" y="416" width="1" height="13" fill="#00ff00"/>
<rect x="1083" y="417" width="3" height="7" fill="#00ff00"/>
<rect x="1088" y="413" width="1" height="17" fill="#00ff00"/>
<rect x="1087" y="421" width="3" height="8" fill="#00ff00"/>
<rect x="1092" y="426" width="1" height="25" fill="#00ff00"/>
<rect x="1091" y="427" width="3" height="15" fill="#00ff00"/>
<rect x="1096" y="419" width="1" height="32" fill="#00ff00"/>
<rect x="1095" y="431" width="3" height="11" fill="#00ff00"/>
<rect x="1100" y="431" width="1" height="64" fill="#00ff00"/>
<rect x="1099" y="433" width="3" height="58" fill="#00ff00"/>
<rect x="1104" y="455" width="1" height="38" fill="#ff0000"/>
<rect x="1103" y="457" width="3" height="34" fill="#ff0000"/>
<rect x="1108" y="452" width="1" height="11" fill="#ff0000"/>
<rect x="1107" y="455" width="3" height="4" fill="#ff0000"/>
<rect x="1112" y="451" width="1" height="18" fill="#ff0000"/>
<rect x="1111" y="455" width="3" height="5" fill="#ff0000"/>
<rect x="1116" y="439" width="1" height="43" fill="#ff0000"/>
<rect x="1115" y="445" width="3" height="12" fill="#ff0000"/>
<rect x="1120" y="438" width="1" height="29" fill="#00ff00"/>
<rect x="1119" y="445" width="3" height="21" fill="#00ff00"/>
<rect x="1124" y="458" width="1" height="23" fill="#00ff00"/>
<rect x="1123" y="464" width="3" height="8" fill="#00ff00"/>
<rect x="1128" y="467" width="1" height="19" fill="#00ff00"/>
<rect x="1127" y="470" width="3" height="11" fill="#00ff00"/>
<rect x="1132" y="478" width="1" height="8" fill="#00ff00"/>
<rect x="1131" y="480" width="3" height="4" fill="#00ff00"/>
<rect x="1136" y="468" width="1" height="26" fill="#00ff00"/>
<rect x="1135" y="481" width="3" height="12" fill="#00ff00"/>
<rect x="1140" y="472" width="1" height="24" fill="#ff0000"/>
<rect x="1139" y="481" width="3" height="11" fill="#ff0000"/>
<rect x="1144" y="475" width="1" height="17" fill="#00ff00"/>
<rect x="1143" y="482" width="3" height="6" fill="#00ff00"/>
<rect x="1148" y="484" width="1" height="20" fill="#00ff00"/>
<rect x="1147" y="484" width="3" height="15" fill="#00ff00"/>
<rect x="1152" y="486" width="1" height="16" fill="#00ff00"/>
<rect x="1151" y="497" width="3" height="3" fill="#00ff00"/>
<rect x="1156" y="497" width="1" height="10" fill="#00ff00"/>
<rect x="1155" y="498" width="3" height="3" fill="#00ff00"/>
<rect x="1160" y="453" width="1" height="49" fill="#ff0000"/>
<rect x="1159" y="457" width="3" height="42" fill="#ff0000"/>
<rect x="1164" y="415" width="1" height="43" fill="#ff0000"/>
<rect x="1163" y="436" width="3" height="22" fill="#ff0000"/>
<rect x="1168" y="423" width="1" height="34" fill="#ff0000"/>
<rect x="1167" y="424" width="3" height="13" fill="#ff0000"/>
<rect x="1172" y="421" width="1" height="26" fill="#00ff00"/>
<rect x="1171" y="424" width="3" height="23" fill="#00ff00"/>
<rect x="1176" y="419" width="1" height="30" fill="#ff0000"/>
<rect x="1175" y="443" width="3" height="5" fill="#ff0000"/>
<rect x="1180" y="430" width="1" height="15" fill="#ff0000"/>
<rect x="1179" y="437" width="3" height="8" fill="#ff0000"/>
<rect x="1184" y="435" width="1" height="16" fill="#00ff00"/>
<rect x="1183" y="438" width="3" height="5" fill="#00ff00"/>
<rect x="1188" y="437" width="1" height="30" fill="#00ff00"/>
<rect x="1187" y="443" width="3" height="20" fill="#00ff00"/>
<rect x="1192" y="422" width="1" height="41" fill="#ff0000"/>
<rect x="1191" y="424" width="3" height="37" fill="#ff0000"/>
<rect x="1196" y="376" width="1" height="51" fill="#ff0000"/>
<rect x="1195" y="379" width="3" height="47" fill="#ff0000"/>
<rect x="1200" y="351" width="1" height="59" fill="#00ff00"/>
<rect x="1199" y="382" width="3" height="27" fill="#00ff00"/>
<rect x="1204" y="401" width="1" height="14" fill="#00ff00"/>
<rect x="1203" y="406" width="3" height="4" fill="#00ff00"/>
<rect x="1208" y="385" width="1" height="27" fill="#ff0000"/>
<rect x="1207" y="388" width="3" height="22" fill="#ff0000"/>
<rect x="1212" y="386" width="1" height="51" fill="#00ff00"/>
<rect x="1211" y="388" width="3" height="35" fill="#00ff00"/>
<rect x="1216" y="413" width="1" height="24" fill="#ff0000"/>
<rect x="1215" y="417" width="3" height="6" fill="#ff0000"/>
<rect x="1220" y="397" width="1" height="31" fill="#ff0000"/>
<rect x="1219" y="403" width="3" height="16" fill="#ff0000"/>
<rect x="1224" y="378" width="1" height="30" fill="#ff0000"/>
<rect x="1223" y="380" width="3" height="28" fill="#ff0000"/>
<rect x="1228" y="377" width="1" height="10" fill="#00ff00"/>
<rect x="1227" y="380" width="3" height="7" fill="#00ff00"/>
<rect x="1232" y="359" width="1" height="32" fill="#ff0000"/>
<rect x="1231" y="369" width="3" height="21" fill="#ff0000"/>
<rect x="1236" y="358" width="1" height="16" fill="#ff0000"/>
<rect x="1235" y="359" width="3" height="12" fill="#ff0000"/>
<rect x="1240" y="357" width="1" height="11" fill="#00ff00"/>
<rect x="1239" y="360" width="3" height="5" fill="#00ff00"/>
<rect x="1244" y="349" width="1" height="20" fill="#ff0000"/>
<rect x="1243" y="351" width="3" height="17" fill="#ff0000"/>
<rect x="1248" y="311" width="1" height="41" fill="#ff0000"/>
<rect x="1247" y="314" width="3" height="38" fill="#ff0000"/>
<rect x="1252" y="311" width="1" height="12" fill="#00ff00"/>
<rect x="1251" y="314" width="3" height="8" fill="#00ff00"/>
<rect x="1256" y="299" width="1" height="20" fill="#ff0000"/>
<rect x="1255" y="303" width="3" height="16" fill="#ff0000"/>
<rect x="1260" y="274" width="1" height="33" fill="#ff0000"/>
<rect x="1259" y="276" width="3" height="30" fill="#ff0000"/>
<rect x="1264" y="273" width="1" height="15" fill="#00ff00"/>
<rect x="1263" y="276" width="3" height="11" fill="#00ff00"/>
<rect x="1268" y="284" width="1" height="31" fill="#00ff00"/>
<rect x="1267" y="295" width="3" height="3" fill="#00ff00"/>
<rect x="1272" y="295" width="1" height="65" fill="#00ff00"/>
<rect x="1271" y="298" width="3" height="41" fill="#00ff00"/>
<rect x="1276" y="329" width="1" height="10" fill="#ff0000"/>
<rect x="1275" y="335" width="3" height="4" fill="#ff0000"/>
<rect x="1280" y="335" width="1" height="29" fill="#00ff00"/>
<rect x="1279" y="353" width="3" height="4" fill="#00ff00"/>
<rect x="1284" y="351" width="1" height="65" fill="#00ff00"/>
<rect x="1283" y="351" width="3" height="60" fill="#00ff00"/>
<rect x="1288" y="396" width="1" height="32" fill="#00ff00"/>
<rect x="1287" y="410" width="3" height="13" fill="#00ff00"/>
<rect x="1292" y="401" width="1" height="27" fill="#00ff00"/>
<rect x="1291" y="421" width="3" height="4" fill="#00ff00"/>
<rect x="1296" y="377" width="1" height="50" fill="#ff0000"/>
<rect x="1295" y="379" width="3" height="45" fill="#ff0000"/>
<rect x="1300" y="373" width="1" height="17" fill="#ff0000"/>
<rect x="1299" y="374" width="3" height="7" fill="#ff0000"/>
<rect x="1304" y="373" width="1" height="15" fill="#ff0000"/>
<rect x="1303" y="373" width="3" height="15" fill="#ff0000"/>
</g>
<g>
<polyline points="4.5,146.3 8.5,152.5 12.5,158.7 16.5,166.3 20.5,174.3 24.5,179.5 28.5,184.6 32.5,189.1 36.5,193.9 40.5,197.2 44.5,199.3 48.5,200.6 52.5,201.3 56.5,201.7 60.5,201.8 64.5,202.4 68.5,203.4 72.5,203.5 76.5,203.7 80.5,204.2 84.5,205.0 88.5,205.5 92.5,206.0 96.5,203.9 100.5,200.6 104.5,197.2 108.5,194.2 112.5,190.1 116.5,182.8 120.5,176.5 124.5,170.9 128.5,165.9 132.5,160.4 136.5,156.6 140.5,153.5 144.5,154.0 148.5,154.8 152.5,156.9 156.5,158.0 160.5,159.5 164.5,162.2 168.5,164.5 172.5,166.3 176.5,168.3 180.5,170.0 184.5,170.3 188.5,172.2 192.5,173.6 196.5,174.7 200.5,174.1 204.5,173.1 208.5,172.8 212.5,172.5 216.5,174.5 220.5,177.5 224.5,179.9 228.5,182.2 232.5,186.9 236.5,194.1 240.5,200.2 244.5,205.8 248.5,210.3 252.5,214.6 256.5,215.9 260.5,217.1 264.5,217.1 268.5,217.1 272.5,216.2 276.5,215.8 280.5,216.4 284.5,216.0 288.5,216.9 292.5,218.6 296.5,219.2 300.5,219.2 304.5,221.9 308.5,222.3 312.5,223.3 316.5,224.3 320.5,225.9 324.5,229.2 328.5,229.7 332.5,229.8 336.5,229.5 340.5,228.7 344.5,227.6 348.5,225.9 352.5,222.2 356.5,219.5 360.5,215.7 364.5,212.2 368.5,208.8 372.5,206.3 376.5,204.1 380.5,201.6 384.5,200.1 388.5,198.3 392.5,197.4 396.5,197.5 400.5,199.3 404.5,202.2 408.5,203.5 412.5,204.6 416.5,206.3 420.5,209.1 424.5,210.0 428.5,212.1 432.5,214.4 436.5,216.7 440.5,220.2 444.5,221.6 448.5,225.0 452.5,228.9 456.5,231.8 460.5,234.8 464.5,239.7 468.5,244.9 472.5,251.4 476.5,257.6 480.5,266.1 484.5,274.6 488.5,282.0 492.5,290.4 496.5,298.4 500.5,305.5 504.5,311.8 508.5,317.9 512.5,324.0 516.5,328.7 520.5,331.9 524.5,334.5 528.5,337.7 532.5,340.6 536.5,343.3 540.5,344.8 544.5,346.6 548.5,347.1 552.5,347.6 556.5,347.9 560.5,348.8 564.5,350.2 568.5,351.9 572.5,353.7 576.5,357.3 580.5,361.1 584.5,363.6 588.5,365.6 592.5,367.3 596.5,367.0 600.5,365.7 604.5,364.0 608.5,362.6 612.5,359.8 616.5,356.7 620.5,353.8 624.5,351.3 628.5,348.8 632.5,347.5 636.5,345.8 640.5,342.3 644.5,339.5 648.5,338.4 652.5,337.3 656.5,336.9 660.5,338.6 664.5,338.8 668.5,338.9 672.5,338.7 676.5,338.1 680.5,336.1 684.5,334.3 688.5,332.1 692.5,328.3 696.5,323.6 700.5,318.6 704.5,313.5 708.5,309.8 712.5,306.9 716.5,305.8 720.5,306.2 724.5,306.7 728.5,308.3 732.5,311.3 736.5,314.1 740.5,318.1 744.5,323.8 748.5,330.1 752.5,335.3 756.5,341.5 760.5,349.4 764.5,355.2 768.5,360.0 772.5,365.3 776.5,371.3 780.5,374.9 784.5,381.1 788.5,386.7 792.5,393.1 796.5,399.8 800.5,407.2 804.5,413.9 808.5,420.3 812.5,428.1 816.5,436.3 820.5,444.5 824.5,451.8 828.5,458.5 832.5,464.9 836.5,471.1 840.5,476.1 844.5,481.2 848.5,486.5 852.5,489.6 856.5,492.2 860.5,493.2 864.5,491.7 868.5,490.2 872.5,487.5 876.5,484.7 880.5,481.7 884.5,480.0 888.5,477.4 892.5,474.9 896.5,471.9 900.5,470.2 904.5,467.2 908.5,466.9 912.5,467.2 916.5,467.8 920.5,467.8 924.5,467.5 928.5,468.7 932.5,468.9 936.5,468.5 940.5,468.3 944.5,469.2 948.5,470.9 952.5,472.3 956.5,471.7 960.5,470.7 964.5,469.4 968.5,468.7 972.5,469.6 976.5,471.5 980.5,472.9 984.5,474.5 988.5,475.8 992.5,478.8 996.5,482.0 1000.5,484.9 1004.5,486.2 1008.5,487.4 1012.5,488.2 1016.5,488.1 1020.5,487.9 1024.5,488.0 1028.5,487.4 1032.5,485.7 1036.5,484.2 1040.5,482.3 1044.5,480.3 1048.5,476.9 1052.5,473.1 1056.5,468.9 1060.5,464.8 1064.5,460.5 1068.5,455.1 1072.5,449.7 1076.5,445.9 1080.5,443.2 1084.5,441.0 1088.5,438.1 1092.5,435.1 1096.5,432.2 1100.5,432.1 1104.5,431.8 1108.5,431.4 1112.5,430.0 1116.5,428.0 1120.5,426.7 1124.5,427.5 1128.5,429.2 1132.5,431.1 1136.5,433.8 1140.5,436.0 1144.5,438.0 1148.5,439.4 1152.5,441.3 1156.5,442.9 1160.5,443.6 1164.5,444.3 1168.5,444.8 1172.5,446.6 1176.5,448.9 1180.5,450.9 1184.5,452.8 1188.5,455.2 1192.5,456.3 1196.5,455.8 1200.5,455.5 1204.5,455.0 1208.5,453.7 1212.5,453.0 1216.5,452.2 1220.5,449.3 1224.5,446.8 1228.5,444.5 1232.5,441.6 1236.5,438.7 1240.5,435.4 1244.5,431.4 1248.5,425.8 1252.5,420.4 1256.5,414.1 1260.5,407.3 1264.5,400.6 1268.5,393.9 1272.5,388.5 1276.5,383.0 1280.5,379.7 1284.5,378.8 1288.5,378.7 1292.5,378.0 1296.5,375.9 1300.5,373.8 1304.5,371.5" fill="none" stroke="#0000c8" stroke-width="1" shape-rendering="crispEdges"/>
<polyline points="4.5,216.5 8.5,224.5 12.5,232.5 16.5,240.5 20.5,248.5 24.5,256.0 28.5,260.0 32.5,257.5 36.5,251.5 40.5,244.4 44.5,235.5 48.5,226.2 52.5,215.7 56.5,205.2 60.5,196.0 64.5,187.6 68.5,180.5 72.5,169.3 76.5,158.6 80.5,155.7 84.5,154.5 88.5,154.9 92.5,156.4 96.5,156.4 100.5,157.0 104.5,158.9 108.5,162.2 112.5,163.0 116.5,157.7 120.5,153.1 124.5,147.6 128.5,145.5 132.5,141.9 136.5,143.1 140.5,144.9 144.5,147.5 148.5,148.6 152.5,154.7 156.5,160.2 160.5,163.6 164.5,167.0 168.5,171.3 172.5,180.2 176.5,187.6 180.5,193.9 184.5,197.1 188.5,205.9 192.5,205.6 196.5,203.9 200.5,198.9 204.5,193.6 208.5,188.9 212.5,187.4 216.5,188.4 220.5,189.8 224.5,192.0 228.5,196.4 232.5,202.9 236.5,209.5 240.5,217.1 244.5,219.6 248.5,224.2 252.5,227.4 256.5,232.6 260.5,239.4 264.5,242.5 268.5,244.2 272.5,244.0 276.5,242.2 280.5,241.9 284.5,239.4 288.5,235.6 292.5,232.6 296.5,228.2 300.5,222.7 304.5,222.0 308.5,222.3 312.5,221.6 316.5,219.4 320.5,217.7 324.5,219.5 328.5,217.9 332.5,217.4 336.5,216.5 340.5,217.0 344.5,214.9 348.5,212.0 352.5,209.3 356.5,210.1 360.5,203.6 364.5,198.0 368.5,193.2 372.5,188.8 376.5,185.8 380.5,180.3 384.5,179.0 388.5,176.8 392.5,175.1 396.5,175.5 400.5,181.4 404.5,188.6 408.5,195.5 412.5,200.7 416.5,208.1 420.5,216.1 424.5,224.5 428.5,234.7 432.5,243.6 436.5,251.6 440.5,260.8 444.5,269.4 448.5,277.2 452.5,284.5 456.5,286.1 460.5,286.7 464.5,292.6 468.5,298.3 472.5,305.9 476.5,313.9 480.5,323.8 484.5,331.9 488.5,338.2 492.5,346.6 496.5,353.5 500.5,360.0 504.5,365.0 508.5,367.6 512.5,372.6 516.5,376.8 520.5,379.0 524.5,380.7 528.5,380.6 532.5,378.6 536.5,373.7 540.5,366.5 544.5,362.9 548.5,356.4 552.5,349.0 556.5,342.6 560.5,340.0 564.5,338.6 568.5,336.9 572.5,338.1 576.5,340.5 580.5,343.6 584.5,347.9 588.5,352.0 592.5,357.1 596.5,361.4 600.5,364.6 604.5,368.0 608.5,370.3 612.5,372.0 616.5,370.4 620.5,367.8 624.5,363.8 628.5,357.1 632.5,351.6 636.5,344.0 640.5,333.5 644.5,324.6 648.5,318.7 652.5,314.9 656.5,312.1 660.5,312.1 664.5,312.1 668.5,311.6 672.5,310.5 676.5,309.0 680.5,307.4 684.5,307.4 688.5,303.9 692.5,300.7 696.5,300.4 700.5,298.9 704.5,294.5 708.5,293.2 712.5,292.8 716.5,291.1 720.5,294.6 724.5,299.1 728.5,305.1 732.5,314.4 736.5,323.4 740.5,333.1 744.5,346.1 748.5,361.0 752.5,376.6 756.5,393.1 760.5,410.5 764.5,421.9 768.5,432.6 772.5,442.4 776.5,451.6 780.5,458.1 784.5,468.1 788.5,473.3 792.5,479.7 796.5,484.1 800.5,485.9 804.5,486.9 808.5,486.1 812.5,486.3 816.5,486.6 820.5,490.1 824.5,491.1 828.5,492.9 832.5,493.4 836.5,497.4 840.5,498.1 844.5,501.5 848.5,505.4 852.5,506.9 856.5,505.5 860.5,503.0 864.5,499.1 868.5,494.0 872.5,486.3 876.5,479.4 880.5,474.6 884.5,468.1 888.5,459.5 892.5,450.6 896.5,442.4 900.5,434.6 904.5,426.6 908.5,424.5 912.5,426.2 916.5,429.6 920.5,434.8 924.5,438.1 928.5,445.7 932.5,452.5 936.5,458.3 940.5,465.0 944.5,473.5 948.5,484.2 952.5,494.3 956.5,500.6 960.5,505.7 964.5,507.0 968.5,508.5 972.5,510.8 976.5,513.3 980.5,514.7 984.5,511.5 988.5,508.8 992.5,508.5 996.5,508.7 1000.5,508.1 1004.5,500.8 1008.5,491.9 1012.5,485.9 1016.5,479.7 1020.5,474.3 1024.5,468.1 1028.5,462.7 1032.5,456.7 1036.5,453.7 1040.5,451.5 1044.5,447.8 1048.5,441.6 1052.5,433.6 1056.5,424.1 1060.5,419.1 1064.5,415.9 1068.5,413.4 1072.5,411.9 1076.5,410.6 1080.5,409.8 1084.5,407.5 1088.5,406.4 1092.5,405.6 1096.5,406.1 1100.5,411.4 1104.5,414.9 1108.5,419.3 1112.5,425.2 1116.5,430.0 1120.5,435.7 1124.5,441.6 1128.5,447.9 1132.5,454.1 1136.5,459.5 1140.5,463.6 1144.5,467.9 1148.5,471.9 1152.5,476.1 1156.5,476.8 1160.5,476.8 1164.5,475.4 1168.5,473.2 1172.5,473.3 1176.5,471.7 1180.5,469.3 1184.5,466.6 1188.5,465.1 1192.5,460.2 1196.5,452.9 1200.5,447.3 1204.5,440.9 1208.5,433.0 1212.5,427.4 1216.5,424.6 1220.5,422.2 1224.5,419.1 1228.5,414.8 1232.5,409.5 1236.5,403.9 1240.5,398.4 1244.5,390.4 1248.5,382.6 1252.5,378.4 1256.5,370.9 1260.5,361.4 1264.5,354.1 1268.5,345.2 1272.5,339.6 1276.5,334.7 1280.5,333.0 1284.5,334.7 1288.5,338.5 1292.5,343.1 1296.5,344.2 1300.5,345.9 1304.5,350.1" fill="none" stroke="#ff0000" stroke-width="1" shape-rendering="crispEdges"/>
<polyline points="4.5,266.3 8.5,267.0 12.5,268.1 16.5,274.0 20.5,279.7 24.5,270.3 28.5,257.5 32.5,240.5 36.5,218.5 40.5,189.9 44.5,175.5 48.5,161.3 52.5,150.1 56.5,137.1 60.5,130.9 64.5,132.9 68.5,140.1 72.5,143.9 76.5,149.1 80.5,157.5 84.5,164.7 88.5,168.9 92.5,182.3 96.5,183.7 100.5,179.1 104.5,173.5 108.5,170.5 112.5,155.7 116.5,134.7 120.5,121.9 124.5,108.7 128.5,97.1 132.5,89.9 136.5,116.7 140.5,141.9 144.5,168.5 148.5,191.1 152.5,219.7 156.5,226.9 160.5,225.9 164.5,225.1 168.5,219.1 172.5,206.1 176.5,198.5 180.5,193.5 184.5,181.5 188.5,186.7 192.5,187.9 196.5,187.7 200.5,182.5 204.5,181.1 208.5,172.3 212.5,175.7 216.5,182.5 220.5,199.5 224.5,214.7 228.5,226.9 232.5,241.9 236.5,252.5 240.5,257.9 244.5,263.9 248.5,265.9 252.5,256.3 256.5,247.1 260.5,243.5 264.5,236.5 268.5,231.7 272.5,229.1 276.5,226.5 280.5,221.7 284.5,218.1 288.5,217.7 292.5,220.7 296.5,218.7 300.5,210.3 304.5,217.3 308.5,219.1 312.5,216.1 316.5,218.7 320.5,222.5 324.5,224.7 328.5,216.9 332.5,214.7 336.5,213.7 340.5,216.1 344.5,204.9 348.5,204.1 352.5,196.1 356.5,192.3 360.5,179.9 364.5,171.7 368.5,163.5 372.5,161.3 376.5,154.5 380.5,159.3 384.5,163.7 388.5,168.7 392.5,175.3 396.5,187.3 400.5,207.9 404.5,231.1 408.5,248.5 412.5,264.1 416.5,271.3 420.5,268.9 424.5,263.9 428.5,271.1 432.5,274.7 436.5,281.1 440.5,288.9 444.5,294.5 448.5,294.3 452.5,301.7 456.5,304.5 460.5,303.7 464.5,313.3 468.5,323.1 472.5,331.1 476.5,346.7 480.5,367.7 484.5,381.1 488.5,386.5 492.5,395.3 496.5,399.7 500.5,395.9 504.5,387.1 508.5,383.9 512.5,377.3 516.5,368.9 520.5,366.5 524.5,367.1 528.5,367.5 532.5,363.3 536.5,359.1 540.5,346.1 544.5,336.7 548.5,327.5 552.5,316.9 556.5,308.7 560.5,312.9 564.5,315.7 568.5,322.7 572.5,338.5 576.5,360.7 580.5,377.3 584.5,393.7 588.5,405.7 592.5,412.3 596.5,404.7 600.5,395.3 604.5,383.7 608.5,368.1 612.5,350.3 616.5,338.1 620.5,324.7 624.5,310.9 628.5,301.5 632.5,303.7 636.5,303.3 640.5,297.7 644.5,296.1 648.5,304.9 652.5,301.9 656.5,305.9 660.5,323.9 664.5,332.9 668.5,330.5 672.5,325.7 676.5,316.1 680.5,297.5 684.5,288.5 688.5,281.9 692.5,275.9 696.5,273.7 700.5,272.5 704.5,268.7 708.5,272.1 712.5,283.7 716.5,297.7 720.5,320.7 724.5,343.3 728.5,359.1 732.5,376.7 736.5,387.9 740.5,396.3 744.5,413.5 748.5,432.3 752.5,447.7 756.5,467.9 760.5,485.5 764.5,484.5 768.5,484.3 772.5,482.1 776.5,484.3 780.5,476.7 784.5,488.3 788.5,490.5 792.5,492.3 796.5,487.3 800.5,491.3 804.5,484.9 808.5,483.5 812.5,486.3 816.5,492.7 820.5,496.3 824.5,496.1 828.5,501.1 832.5,504.3 836.5,506.7 840.5,510.7 844.5,519.7 848.5,527.3 852.5,525.1 856.5,514.1 860.5,498.5 864.5,476.7 868.5,454.5 872.5,434.9 876.5,423.1 880.5,416.7 884.5,414.3 888.5,407.7 892.5,406.7 896.5,407.3 900.5,407.7 904.5,411.3 908.5,427.1 912.5,445.9 916.5,462.7 920.5,477.1 924.5,486.7 928.5,494.3 932.5,496.7 936.5,496.9 940.5,498.9 944.5,506.7 948.5,514.5 952.5,524.3 956.5,526.1 960.5,525.3 964.5,520.9 968.5,513.9 972.5,508.9 976.5,512.7 980.5,511.9 984.5,506.9 988.5,497.5 992.5,490.5 996.5,486.1 1000.5,488.3 1004.5,484.5 1008.5,476.9 1012.5,462.7 1016.5,444.1 1020.5,426.1 1024.5,422.3 1028.5,427.3 1032.5,431.1 1036.5,439.1 1040.5,443.1 1044.5,440.7 1048.5,431.3 1052.5,421.3 1056.5,405.3 1060.5,393.9 1064.5,387.7 1068.5,383.9 1072.5,383.5 1076.5,388.3 1080.5,396.1 1084.5,403.7 1088.5,411.5 1092.5,421.5 1096.5,430.5 1100.5,445.1 1104.5,451.9 1108.5,457.3 1112.5,460.1 1116.5,460.9 1120.5,455.9 1124.5,458.7 1128.5,463.7 1132.5,469.3 1136.5,478.7 1140.5,481.9 1144.5,485.1 1148.5,488.7 1152.5,491.9 1156.5,493.5 1160.5,488.7 1164.5,478.5 1168.5,463.7 1172.5,453.1 1176.5,441.7 1180.5,437.7 1184.5,438.9 1188.5,446.5 1192.5,442.1 1196.5,429.3 1200.5,423.5 1204.5,416.9 1208.5,402.1 1212.5,401.7 1216.5,409.3 1220.5,408.3 1224.5,402.5 1228.5,402.1 1232.5,391.5 1236.5,379.9 1240.5,372.1 1244.5,366.3 1248.5,351.9 1252.5,342.3 1256.5,331.1 1260.5,313.5 1264.5,300.5 1268.5,297.1 1272.5,300.5 1276.5,306.9 1280.5,322.9 1284.5,347.7 1288.5,372.7 1292.5,389.9 1296.5,398.7 1300.5,402.3 1304.5,394.9" fill="none" stroke="#ffa500" stroke-width="1" shape-rendering="crispEdges"/>
</g>
<g shape-rendering="crispEdges">
<rect x="4" y="212" width="1636" height="2" fill="#ff0000"/>
<rect x="4" y="297" width="1636" height="2" fill="#ff0000"/>
<rect x="4" y="295" width="6" height="6" fill="#ff0000"/>
<rect x="6" y="297" width="2" height="2" fill="#ffffff"/>
<rect x="1634" y="295" width="6" height="6" fill="#ff0000"/>
<rect x="1636" y="297" width="2" height="2" fill="#ffffff"/>
<rect x="4" y="381" width="1636" height="2" fill="#00ff00"/>
<rect x="4" y="379" width="6" height="6" fill="#00ff00"/>
<rect x="6" y="381" width="2" height="2" fill="#ffffff"/>
<rect x="1634" y="379" width="6" height="6" fill="#00ff00"/>
<rect x="1636" y="381" width="2" height="2" fill="#ffffff"/>
<rect x="4" y="466" width="1636" height="2" fill="#0000ff"/>
<rect x="4" y="464" width="6" height="6" fill="#0000ff"/>
<rect x="6" y="466" width="2" height="2" fill="#ffffff"/>
<rect x="1634" y="464" width="6" height="6" fill="#0000ff"/>
<rect x="1636" y="466" width="2" height="2" fill="#ffffff"/>
<rect x="4" y="575" width="1636" height="2" fill="#0000ff"/>
<rect x="4" y="573" width="6" height="6" fill="#0000ff"/>
<rect x="6" y="575" width="2" height="2" fill="#ffffff"/>
<rect x="1634" y="573" width="6" height="6" fill="#0000ff"/>
<rect x="1636" y="575" width="2" height="2" fill="#ffffff"/>
</g>
<polygon points="1307,24 1316,24 1311.5,28.5" fill="#c0c0c0"/>
<rect x="3" y="23" width="1638" height="1" fill="#000"/>
<rect x="3" y="590" width="1638" height="1" fill="#000"/>
<rect x="3" y="23" width="1" height="568" fill="#000"/>
<rect x="1640" y="23" width="1" height="568" fill="#000"/>
<rect x="3" y="592" width="1638" height="1" fill="#000"/>
<rect x="3" y="696" width="1638" height="1" fill="#000"/>
<rect x="3" y="592" width="1" height="105" fill="#000"/>
<rect x="1640" y="592" width="1" height="105" fill="#000"/>
<rect x="3" y="698" width="1638" height="1" fill="#000"/>
<rect x="3" y="801" width="1638" height="1" fill="#000"/>
<rect x="3" y="698" width="1" height="104" fill="#000"/>
<rect x="1640" y="698" width="1" height="104" fill="#000"/>
<polygon points="7,30 14,30 10.5,34" fill="#000"/>
<text x="20" y="35" font-size="9.7" fill="#000" stroke="#000" stroke-width="0.12" textLength="64.9" lengthAdjust="spacingAndGlyphs">AUDUSD,Daily</text>
<text x="91.3" y="35" font-size="9.7" fill="#000" stroke="#000" stroke-width="0.12" textLength="32.1" lengthAdjust="spacingAndGlyphs">0.68960</text>
<text x="127.7" y="35" font-size="9.7" fill="#000" stroke="#000" stroke-width="0.12" textLength="31.8" lengthAdjust="spacingAndGlyphs">0.69126</text>
<text x="163.3" y="35" font-size="9.7" fill="#000" stroke="#000" stroke-width="0.12" textLength="31.9" lengthAdjust="spacingAndGlyphs">0.68957</text>
<text x="199.7" y="35" font-size="9.7" fill="#000" stroke="#000" stroke-width="0.12" textLength="32.1" lengthAdjust="spacingAndGlyphs">0.69115</text>
<rect x="1641" y="26" width="2" height="1" fill="#000"/>
<text x="1646" y="30" font-size="9.2" fill="#000" stroke="#000" stroke-width="0.25" textLength="32.5" lengthAdjust="spacingAndGlyphs">0.73240</text>
<rect x="1641" y="59" width="2" height="1" fill="#000"/>
<text x="1646" y="63" font-size="9.2" fill="#000" stroke="#000" stroke-width="0.25" textLength="32.5" lengthAdjust="spacingAndGlyphs">0.72850</text>
<rect x="1641" y="92" width="2" height="1" fill="#000"/>
<text x="1646" y="96" font-size="9.2" fill="#000" stroke="#000" stroke-width="0.25" textLength="32.5" lengthAdjust="spacingAndGlyphs">0.72460</text>
<rect x="1641" y="125" width="2" height="1" fill="#000"/>
<text x="1646" y="129" font-size="9.2" fill="#000" stroke="#000" stroke-width="0.25" textLength="32.5" lengthAdjust="spacingAndGlyphs">0.72070</text>
<rect x="1641" y="158" width="2" height="1" fill="#000"/>
<text x="1646" y="162" font-size="9.2" fill="#000" stroke="#000" stroke-width="0.25" textLength="32.5" lengthAdjust="spacingAndGlyphs">0.71670</text>
<rect x="1641" y="191" width="2" height="1" fill="#000"/>
<text x="1646" y="195" font-size="9.2" fill="#000" stroke="#000" stroke-width="0.25" textLength="32.5" lengthAdjust="spacingAndGlyphs">0.71280</text>
<rect x="1641" y="224" width="2" height="1" fill="#000"/>
<text x="1646" y="228" font-size="9.2" fill="#000" stroke="#000" stroke-width="0.25" textLength="32.5" lengthAdjust="spacingAndGlyphs">0.70890</text>
<rect x="1641" y="257" width="2" height="1" fill="#000"/>
<text x="1646" y="261" font-size="9.2" fill="#000" stroke="#000" stroke-width="0.25" textLength="32.5" lengthAdjust="spacingAndGlyphs">0.70490</text>
<rect x="1641" y="290" width="2" height="1" fill="#000"/>
<text x="1646" y="294" font-size="9.2" fill="#000" stroke="#000" stroke-width="0.25" textLength="32.5" lengthAdjust="spacingAndGlyphs">0.70100</text>
<rect x="1641" y="323" width="2" height="1" fill="#000"/>
<text x="1646" y="327" font-size="9.2" fill="#000" stroke="#000" stroke-width="0.25" textLength="32.5" lengthAdjust="spacingAndGlyphs">0.69710</text>
<rect x="1641" y="356" width="2" height="1" fill="#000"/>
<text x="1646" y="360" font-size="9.2" fill="#000" stroke="#000" stroke-width="0.25" textLength="32.5" lengthAdjust="spacingAndGlyphs">0.69320</text>
<rect x="1641" y="389" width="2" height="1" fill="#000"/>
<text x="1646" y="393" font-size="9.2" fill="#000" stroke="#000" stroke-width="0.25" textLength="32.5" lengthAdjust="spacingAndGlyphs">0.68920</text>
<rect x="1641" y="422" width="2" height="1" fill="#000"/>
<text x="1646" y="426" font-size="9.2" fill="#000" stroke="#000" stroke-width="0.25" textLength="32.5" lengthAdjust="spacingAndGlyphs">0.68530</text>
<rect x="1641" y="455" width="2" height="1" fill="#000"/>
<text x="1646" y="459" font-size="9.2" fill="#000" stroke="#000" stroke-width="0.25" textLength="32.5" lengthAdjust="spacingAndGlyphs">0.68140</text>
<rect x="1641" y="488" width="2" height="1" fill="#000"/>
<text x="1646" y="492" font-size="9.2" fill="#000" stroke="#000" stroke-width="0.25" textLength="32.5" lengthAdjust="spacingAndGlyphs">0.67750</text>
<rect x="1641" y="521" width="2" height="1" fill="#000"/>
<text x="1646" y="525" font-size="9.2" fill="#000" stroke="#000" stroke-width="0.25" textLength="32.5" lengthAdjust="spacingAndGlyphs">0.67350</text>
<rect x="1641" y="554" width="2" height="1" fill="#000"/>
<text x="1646" y="558" font-size="9.2" fill="#000" stroke="#000" stroke-width="0.25" textLength="32.5" lengthAdjust="spacingAndGlyphs">0.66960</text>
<rect x="1641" y="587" width="2" height="1" fill="#000"/>
<text x="1646" y="591" font-size="9.2" fill="#000" stroke="#000" stroke-width="0.25" textLength="32.5" lengthAdjust="spacingAndGlyphs">0.66570</text>
<rect x="1642" y="368" width="41" height="11" fill="#000000"/>
<text x="1646" y="377" font-size="9.2" fill="#ffffff" stroke="#ffffff" stroke-width="0.25" textLength="32.5" lengthAdjust="spacingAndGlyphs">0.69115</text>
<rect x="1642" y="207" width="41" height="11" fill="#ff0000"/>
<text x="1646" y="216" font-size="9.2" fill="#ffffff" stroke="#ffffff" stroke-width="0.25" textLength="32.5" lengthAdjust="spacingAndGlyphs">0.71016</text>
<rect x="1642" y="292" width="41" height="11" fill="#ff0000"/>
<text x="1646" y="301" font-size="9.2" fill="#ffffff" stroke="#ffffff" stroke-width="0.25" textLength="32.5" lengthAdjust="spacingAndGlyphs">0.70007</text>
<rect x="1642" y="376" width="41" height="11" fill="#00ff00"/>
<text x="1646" y="385" font-size="9.2" fill="#ffffff" stroke="#ffffff" stroke-width="0.25" textLength="32.5" lengthAdjust="spacingAndGlyphs">0.69010</text>
<rect x="1642" y="461" width="41" height="11" fill="#0000ff"/>
<text x="1646" y="470" font-size="9.2" fill="#ffffff" stroke="#ffffff" stroke-width="0.25" textLength="32.5" lengthAdjust="spacingAndGlyphs">0.68000</text>
<rect x="1642" y="570" width="41" height="11" fill="#0000ff"/>
<text x="1646" y="579" font-size="9.2" fill="#ffffff" stroke="#ffffff" stroke-width="0.25" textLength="32.5" lengthAdjust="spacingAndGlyphs">0.66706</text>
<line x1="4" y1="624.5" x2="1640" y2="624.5" stroke="#c0c0c0" stroke-width="1" stroke-dasharray="3,3" shape-rendering="crispEdges"/>
<line x1="4" y1="665.5" x2="1640" y2="665.5" stroke="#c0c0c0" stroke-width="1" stroke-dasharray="3,3" shape-rendering="crispEdges"/>
<polyline points="4.5,662.9 8.5,664.0 12.5,664.0 16.5,667.9 20.5,668.5 24.5,646.1 28.5,643.9 32.5,639.4 36.5,642.0 40.5,635.4 44.5,631.7 48.5,630.4 52.5,629.6 56.5,629.9 60.5,630.6 64.5,637.3 68.5,642.6 72.5,637.4 76.5,639.8 80.5,644.7 84.5,648.2 88.5,649.0 92.5,654.5 96.5,641.5 100.5,639.0 104.5,641.3 108.5,645.1 112.5,637.9 116.5,626.3 120.5,632.6 124.5,634.1 128.5,638.9 132.5,637.0 136.5,651.1 140.5,653.7 144.5,655.4 148.5,655.9 152.5,658.0 156.5,654.0 160.5,650.2 164.5,652.4 168.5,648.2 172.5,645.0 176.5,646.3 180.5,644.9 184.5,641.3 188.5,652.1 192.5,645.6 196.5,645.6 200.5,640.5 204.5,640.3 208.5,645.2 212.5,649.0 216.5,651.6 220.5,654.4 224.5,652.4 228.5,654.2 232.5,659.4 236.5,658.2 240.5,656.6 244.5,654.8 248.5,652.9 252.5,647.9 256.5,647.2 260.5,651.5 264.5,645.9 268.5,646.5 272.5,644.2 276.5,643.5 280.5,646.0 284.5,641.6 288.5,646.4 292.5,648.1 296.5,641.2 300.5,636.6 304.5,649.6 308.5,648.1 312.5,644.5 316.5,644.5 320.5,641.1 324.5,651.4 328.5,640.8 332.5,642.9 336.5,644.0 340.5,644.2 344.5,641.0 348.5,640.0 352.5,635.5 356.5,641.7 360.5,634.8 364.5,635.7 368.5,634.9 372.5,636.1 376.5,637.1 380.5,641.2 384.5,641.7 388.5,641.3 392.5,644.8 396.5,652.1 400.5,661.9 404.5,663.9 408.5,655.9 412.5,656.5 416.5,653.8 420.5,655.7 424.5,656.0 428.5,661.0 432.5,657.0 436.5,657.6 440.5,660.6 444.5,657.9 448.5,658.0 452.5,662.3 456.5,656.0 460.5,656.0 464.5,663.4 468.5,663.7 472.5,665.9 476.5,668.4 480.5,671.6 484.5,672.1 488.5,659.8 492.5,664.3 496.5,663.2 500.5,659.1 504.5,653.7 508.5,651.2 512.5,654.1 516.5,650.7 520.5,653.8 524.5,652.5 528.5,649.5 532.5,647.3 536.5,643.9 540.5,637.6 544.5,641.1 548.5,638.8 552.5,635.7 556.5,635.4 560.5,644.9 564.5,646.4 568.5,649.1 572.5,655.3 576.5,660.7 580.5,661.6 584.5,662.4 588.5,658.8 592.5,659.2 596.5,647.4 600.5,646.7 604.5,645.1 608.5,637.8 612.5,635.9 616.5,633.5 620.5,631.8 624.5,630.2 628.5,628.5 632.5,643.1 636.5,637.9 640.5,631.9 644.5,635.0 648.5,644.6 652.5,642.7 656.5,644.8 660.5,651.3 664.5,644.7 668.5,642.2 672.5,638.4 676.5,636.2 680.5,634.6 684.5,638.1 688.5,637.8 692.5,634.4 696.5,635.7 700.5,634.8 704.5,635.4 708.5,644.4 712.5,649.2 716.5,652.6 720.5,659.3 724.5,659.3 728.5,659.3 732.5,664.1 736.5,659.6 740.5,663.4 744.5,668.7 748.5,669.5 752.5,670.9 756.5,671.8 760.5,673.1 764.5,659.0 768.5,660.6 772.5,661.2 776.5,665.2 780.5,656.1 784.5,662.2 788.5,654.8 792.5,655.0 796.5,654.4 800.5,655.8 804.5,654.6 808.5,652.1 812.5,656.1 816.5,658.5 820.5,657.1 824.5,650.9 828.5,653.9 832.5,656.3 836.5,658.2 840.5,658.7 844.5,658.9 848.5,660.5 852.5,650.0 856.5,642.3 860.5,638.3 864.5,633.1 868.5,634.9 872.5,631.3 876.5,633.0 880.5,634.9 884.5,633.1 888.5,630.6 892.5,632.4 896.5,636.7 900.5,638.5 904.5,640.3 908.5,651.9 912.5,655.9 916.5,656.6 920.5,654.8 924.5,649.7 928.5,657.0 932.5,655.5 936.5,653.5 940.5,654.2 944.5,656.5 948.5,663.1 952.5,663.8 956.5,650.3 960.5,647.9 964.5,646.2 968.5,651.3 972.5,654.2 976.5,653.4 980.5,645.1 984.5,639.3 988.5,639.8 992.5,646.1 996.5,648.2 1000.5,648.2 1004.5,636.2 1008.5,633.4 1012.5,632.5 1016.5,630.6 1020.5,631.4 1024.5,635.2 1028.5,642.1 1032.5,639.7 1036.5,641.9 1040.5,638.3 1044.5,634.6 1048.5,633.1 1052.5,630.5 1056.5,627.1 1060.5,629.0 1064.5,631.3 1068.5,632.6 1072.5,633.3 1076.5,635.1 1080.5,642.0 1084.5,643.9 1088.5,645.4 1092.5,649.2 1096.5,649.2 1100.5,660.9 1104.5,650.6 1108.5,650.1 1112.5,650.1 1116.5,647.0 1120.5,652.1 1124.5,653.6 1128.5,655.7 1132.5,656.4 1136.5,658.5 1140.5,654.2 1144.5,655.8 1148.5,658.6 1152.5,658.8 1156.5,659.1 1160.5,642.9 1164.5,637.3 1168.5,634.4 1172.5,641.5 1176.5,640.7 1180.5,639.1 1184.5,640.8 1188.5,647.2 1192.5,637.1 1196.5,628.7 1200.5,636.7 1204.5,637.0 1208.5,633.1 1212.5,641.7 1216.5,640.7 1220.5,637.9 1224.5,633.7 1228.5,635.3 1232.5,632.3 1236.5,630.6 1240.5,632.1 1244.5,629.8 1248.5,624.1 1252.5,626.4 1256.5,623.8 1260.5,620.5 1264.5,623.8 1268.5,627.3 1272.5,638.6 1276.5,638.0 1280.5,643.1 1284.5,653.4 1288.5,655.3 1292.5,655.6 1296.5,645.7 1300.5,644.7 1304.5,644.5" fill="none" stroke="#1e90ff" stroke-width="1" shape-rendering="crispEdges"/>
<text x="8" y="605" font-size="9.2" fill="#000" stroke="#000" stroke-width="0.25" textLength="67" lengthAdjust="spacingAndGlyphs">RSI(14) 50.4861</text>
<rect x="1641" y="594" width="2" height="1" fill="#000"/>
<text x="1644.4" y="602" font-size="9.2" fill="#000" stroke="#000" stroke-width="0.25">100</text>
<text x="1643" y="628" font-size="9.2" fill="#000" stroke="#000" stroke-width="0.25">70</text>
<text x="1643" y="669" font-size="9.2" fill="#000" stroke="#000" stroke-width="0.25">30</text>
<rect x="1641" y="695" width="2" height="1" fill="#000"/>
<text x="1644" y="692" font-size="9.2" fill="#000" stroke="#000" stroke-width="0.25">0</text>
<g shape-rendering="crispEdges">
<rect x="4" y="745" width="1" height="49" fill="#c0c0c0"/>
<rect x="8" y="745" width="1" height="48" fill="#c0c0c0"/>
<rect x="12" y="745" width="1" height="46" fill="#c0c0c0"/>
<rect x="16" y="745" width="1" height="48" fill="#c0c0c0"/>
<rect x="20" y="745" width="1" height="50" fill="#c0c0c0"/>
<rect x="24" y="745" width="1" height="42" fill="#c0c0c0"/>
<rect x="28" y="745" width="1" height="35" fill="#c0c0c0"/>
<rect x="32" y="745" width="1" height="28" fill="#c0c0c0"/>
<rect x="36" y="745" width="1" height="22" fill="#c0c0c0"/>
<rect x="40" y="745" width="1" height="15" fill="#c0c0c0"/>
<rect x="44" y="745" width="1" height="7" fill="#c0c0c0"/>
<rect x="48" y="745" width="1" height="2" fill="#c0c0c0"/>
<rect x="52" y="739" width="1" height="7" fill="#c0c0c0"/>
<rect x="56" y="735" width="1" height="11" fill="#c0c0c0"/>
<rect x="60" y="732" width="1" height="14" fill="#c0c0c0"/>
<rect x="64" y="731" width="1" height="15" fill="#c0c0c0"/>
<rect x="68" y="733" width="1" height="13" fill="#c0c0c0"/>
<rect x="72" y="732" width="1" height="14" fill="#c0c0c0"/>
<rect x="76" y="733" width="1" height="13" fill="#c0c0c0"/>
<rect x="80" y="735" width="1" height="11" fill="#c0c0c0"/>
<rect x="84" y="737" width="1" height="9" fill="#c0c0c0"/>
<rect x="88" y="740" width="1" height="6" fill="#c0c0c0"/>
<rect x="92" y="744" width="1" height="2" fill="#c0c0c0"/>
<rect x="96" y="743" width="1" height="3" fill="#c0c0c0"/>
<rect x="100" y="741" width="1" height="5" fill="#c0c0c0"/>
<rect x="104" y="740" width="1" height="6" fill="#c0c0c0"/>
<rect x="108" y="741" width="1" height="5" fill="#c0c0c0"/>
<rect x="112" y="739" width="1" height="7" fill="#c0c0c0"/>
<rect x="116" y="730" width="1" height="16" fill="#c0c0c0"/>
<rect x="120" y="726" width="1" height="20" fill="#c0c0c0"/>
<rect x="124" y="723" width="1" height="23" fill="#c0c0c0"/>
<rect x="128" y="724" width="1" height="22" fill="#c0c0c0"/>
<rect x="132" y="723" width="1" height="23" fill="#c0c0c0"/>
<rect x="136" y="730" width="1" height="16" fill="#c0c0c0"/>
<rect x="140" y="738" width="1" height="8" fill="#c0c0c0"/>
<rect x="144" y="745" width="1" height="1" fill="#c0c0c0"/>
<rect x="148" y="745" width="1" height="7" fill="#c0c0c0"/>
<rect x="152" y="745" width="1" height="13" fill="#c0c0c0"/>
<rect x="156" y="745" width="1" height="16" fill="#c0c0c0"/>
<rect x="160" y="745" width="1" height="16" fill="#c0c0c0"/>
<rect x="164" y="745" width="1" height="18" fill="#c0c0c0"/>
<rect x="168" y="745" width="1" height="17" fill="#c0c0c0"/>
<rect x="172" y="745" width="1" height="14" fill="#c0c0c0"/>
<rect x="176" y="745" width="1" height="13" fill="#c0c0c0"/>
<rect x="180" y="745" width="1" height="11" fill="#c0c0c0"/>
<rect x="184" y="745" width="1" height="8" fill="#c0c0c0"/>
<rect x="188" y="745" width="1" height="11" fill="#c0c0c0"/>
<rect x="192" y="745" width="1" height="9" fill="#c0c0c0"/>
<rect x="196" y="745" width="1" height="8" fill="#c0c0c0"/>
<rect x="200" y="745" width="1" height="5" fill="#c0c0c0"/>
<rect x="204" y="745" width="1" height="2" fill="#c0c0c0"/>
<rect x="208" y="745" width="1" height="2" fill="#c0c0c0"/>
<rect x="212" y="745" width="1" height="4" fill="#c0c0c0"/>
<rect x="216" y="745" width="1" height="7" fill="#c0c0c0"/>
<rect x="220" y="745" width="1" height="11" fill="#c0c0c0"/>
<rect x="224" y="745" width="1" height="13" fill="#c0c0c0"/>
<rect x="228" y="745" width="1" height="15" fill="#c0c0c0"/>
<rect x="232" y="745" width="1" height="20" fill="#c0c0c0"/>
<rect x="236" y="745" width="1" height="23" fill="#c0c0c0"/>
<rect x="240" y="745" width="1" height="25" fill="#c0c0c0"/>
<rect x="244" y="745" width="1" height="25" fill="#c0c0c0"/>
<rect x="248" y="745" width="1" height="25" fill="#c0c0c0"/>
<rect x="252" y="745" width="1" height="22" fill="#c0c0c0"/>
<rect x="256" y="745" width="1" height="20" fill="#c0c0c0"/>
<rect x="260" y="745" width="1" height="19" fill="#c0c0c0"/>
<rect x="264" y="745" width="1" height="17" fill="#c0c0c0"/>
<rect x="268" y="745" width="1" height="15" fill="#c0c0c0"/>
<rect x="272" y="745" width="1" height="13" fill="#c0c0c0"/>
<rect x="276" y="745" width="1" height="10" fill="#c0c0c0"/>
<rect x="280" y="745" width="1" height="9" fill="#c0c0c0"/>
<rect x="284" y="745" width="1" height="7" fill="#c0c0c0"/>
<rect x="288" y="745" width="1" height="6" fill="#c0c0c0"/>
<rect x="292" y="745" width="1" height="6" fill="#c0c0c0"/>
<rect x="296" y="745" width="1" height="4" fill="#c0c0c0"/>
<rect x="300" y="745" width="1" height="1" fill="#c0c0c0"/>
<rect x="304" y="745" width="1" height="3" fill="#c0c0c0"/>
<rect x="308" y="745" width="1" height="4" fill="#c0c0c0"/>
<rect x="312" y="745" width="1" height="3" fill="#c0c0c0"/>
<rect x="316" y="745" width="1" height="3" fill="#c0c0c0"/>
<rect x="320" y="745" width="1" height="1" fill="#c0c0c0"/>
<rect x="324" y="745" width="1" height="4" fill="#c0c0c0"/>
<rect x="328" y="745" width="1" height="1" fill="#c0c0c0"/>
<rect x="332" y="744" width="1" height="2" fill="#c0c0c0"/>
<rect x="336" y="744" width="1" height="2" fill="#c0c0c0"/>
<rect x="340" y="744" width="1" height="2" fill="#c0c0c0"/>
<rect x="344" y="742" width="1" height="4" fill="#c0c0c0"/>
<rect x="348" y="741" width="1" height="5" fill="#c0c0c0"/>
<rect x="352" y="737" width="1" height="9" fill="#c0c0c0"/>
<rect x="356" y="737" width="1" height="9" fill="#c0c0c0"/>
<rect x="360" y="733" width="1" height="13" fill="#c0c0c0"/>
<rect x="364" y="731" width="1" height="15" fill="#c0c0c0"/>
<rect x="368" y="729" width="1" height="17" fill="#c0c0c0"/>
<rect x="372" y="728" width="1" height="18" fill="#c0c0c0"/>
<rect x="376" y="728" width="1" height="18" fill="#c0c0c0"/>
<rect x="380" y="729" width="1" height="17" fill="#c0c0c0"/>
<rect x="384" y="730" width="1" height="16" fill="#c0c0c0"/>
<rect x="388" y="731" width="1" height="15" fill="#c0c0c0"/>
<rect x="392" y="734" width="1" height="12" fill="#c0c0c0"/>
<rect x="396" y="738" width="1" height="8" fill="#c0c0c0"/>
<rect x="400" y="745" width="1" height="2" fill="#c0c0c0"/>
<rect x="404" y="745" width="1" height="10" fill="#c0c0c0"/>
<rect x="408" y="745" width="1" height="14" fill="#c0c0c0"/>
<rect x="412" y="745" width="1" height="17" fill="#c0c0c0"/>
<rect x="416" y="745" width="1" height="18" fill="#c0c0c0"/>
<rect x="420" y="745" width="1" height="20" fill="#c0c0c0"/>
<rect x="424" y="745" width="1" height="21" fill="#c0c0c0"/>
<rect x="428" y="745" width="1" height="24" fill="#c0c0c0"/>
<rect x="432" y="745" width="1" height="25" fill="#c0c0c0"/>
<rect x="436" y="745" width="1" height="26" fill="#c0c0c0"/>
<rect x="440" y="745" width="1" height="28" fill="#c0c0c0"/>
<rect x="444" y="745" width="1" height="29" fill="#c0c0c0"/>
<rect x="448" y="745" width="1" height="29" fill="#c0c0c0"/>
<rect x="452" y="745" width="1" height="31" fill="#c0c0c0"/>
<rect x="456" y="745" width="1" height="30" fill="#c0c0c0"/>
<rect x="460" y="745" width="1" height="29" fill="#c0c0c0"/>
<rect x="464" y="745" width="1" height="32" fill="#c0c0c0"/>
<rect x="468" y="745" width="1" height="34" fill="#c0c0c0"/>
<rect x="472" y="745" width="1" height="36" fill="#c0c0c0"/>
<rect x="476" y="745" width="1" height="39" fill="#c0c0c0"/>
<rect x="480" y="745" width="1" height="43" fill="#c0c0c0"/>
<rect x="484" y="745" width="1" height="47" fill="#c0c0c0"/>
<rect x="488" y="745" width="1" height="45" fill="#c0c0c0"/>
<rect x="492" y="745" width="1" height="47" fill="#c0c0c0"/>
<rect x="496" y="745" width="1" height="47" fill="#c0c0c0"/>
<rect x="500" y="745" width="1" height="45" fill="#c0c0c0"/>
<rect x="504" y="745" width="1" height="42" fill="#c0c0c0"/>
<rect x="508" y="745" width="1" height="38" fill="#c0c0c0"/>
<rect x="512" y="745" width="1" height="35" fill="#c0c0c0"/>
<rect x="516" y="745" width="1" height="32" fill="#c0c0c0"/>
<rect x="520" y="745" width="1" height="31" fill="#c0c0c0"/>
<rect x="524" y="745" width="1" height="29" fill="#c0c0c0"/>
<rect x="528" y="745" width="1" height="26" fill="#c0c0c0"/>
<rect x="532" y="745" width="1" height="23" fill="#c0c0c0"/>
<rect x="536" y="745" width="1" height="19" fill="#c0c0c0"/>
<rect x="540" y="745" width="1" height="13" fill="#c0c0c0"/>
<rect x="544" y="745" width="1" height="10" fill="#c0c0c0"/>
<rect x="548" y="745" width="1" height="6" fill="#c0c0c0"/>
<rect x="552" y="745" width="1" height="2" fill="#c0c0c0"/>
<rect x="556" y="743" width="1" height="3" fill="#c0c0c0"/>
<rect x="560" y="743" width="1" height="3" fill="#c0c0c0"/>
<rect x="564" y="744" width="1" height="2" fill="#c0c0c0"/>
<rect x="568" y="745" width="1" height="1" fill="#c0c0c0"/>
<rect x="572" y="745" width="1" height="5" fill="#c0c0c0"/>
<rect x="576" y="745" width="1" height="10" fill="#c0c0c0"/>
<rect x="580" y="745" width="1" height="15" fill="#c0c0c0"/>
<rect x="584" y="745" width="1" height="19" fill="#c0c0c0"/>
<rect x="588" y="745" width="1" height="21" fill="#c0c0c0"/>
<rect x="592" y="745" width="1" height="22" fill="#c0c0c0"/>
<rect x="596" y="745" width="1" height="20" fill="#c0c0c0"/>
<rect x="600" y="745" width="1" height="18" fill="#c0c0c0"/>
<rect x="604" y="745" width="1" height="15" fill="#c0c0c0"/>
<rect x="608" y="745" width="1" height="10" fill="#c0c0c0"/>
<rect x="612" y="745" width="1" height="6" fill="#c0c0c0"/>
<rect x="616" y="745" width="1" height="1" fill="#c0c0c0"/>
<rect x="620" y="740" width="1" height="6" fill="#c0c0c0"/>
<rect x="624" y="736" width="1" height="10" fill="#c0c0c0"/>
<rect x="628" y="733" width="1" height="13" fill="#c0c0c0"/>
<rect x="632" y="734" width="1" height="12" fill="#c0c0c0"/>
<rect x="636" y="733" width="1" height="13" fill="#c0c0c0"/>
<rect x="640" y="729" width="1" height="17" fill="#c0c0c0"/>
<rect x="644" y="728" width="1" height="18" fill="#c0c0c0"/>
<rect x="648" y="730" width="1" height="16" fill="#c0c0c0"/>
<rect x="652" y="731" width="1" height="15" fill="#c0c0c0"/>
<rect x="656" y="734" width="1" height="12" fill="#c0c0c0"/>
<rect x="660" y="738" width="1" height="8" fill="#c0c0c0"/>
<rect x="664" y="739" width="1" height="7" fill="#c0c0c0"/>
<rect x="668" y="739" width="1" height="7" fill="#c0c0c0"/>
<rect x="672" y="737" width="1" height="9" fill="#c0c0c0"/>
<rect x="676" y="734" width="1" height="12" fill="#c0c0c0"/>
<rect x="680" y="731" width="1" height="15" fill="#c0c0c0"/>
<rect x="684" y="730" width="1" height="16" fill="#c0c0c0"/>
<rect x="688" y="730" width="1" height="16" fill="#c0c0c0"/>
<rect x="692" y="728" width="1" height="18" fill="#c0c0c0"/>
<rect x="696" y="727" width="1" height="19" fill="#c0c0c0"/>
<rect x="700" y="726" width="1" height="20" fill="#c0c0c0"/>
<rect x="704" y="726" width="1" height="20" fill="#c0c0c0"/>
<rect x="708" y="729" width="1" height="17" fill="#c0c0c0"/>
<rect x="712" y="733" width="1" height="13" fill="#c0c0c0"/>
<rect x="716" y="738" width="1" height="8" fill="#c0c0c0"/>
<rect x="720" y="745" width="1" height="1" fill="#c0c0c0"/>
<rect x="724" y="745" width="1" height="7" fill="#c0c0c0"/>
<rect x="728" y="745" width="1" height="11" fill="#c0c0c0"/>
<rect x="732" y="745" width="1" height="17" fill="#c0c0c0"/>
<rect x="736" y="745" width="1" height="21" fill="#c0c0c0"/>
<rect x="740" y="745" width="1" height="25" fill="#c0c0c0"/>
<rect x="744" y="745" width="1" height="32" fill="#c0c0c0"/>
<rect x="748" y="745" width="1" height="38" fill="#c0c0c0"/>
<rect x="752" y="745" width="1" height="43" fill="#c0c0c0"/>
<rect x="756" y="745" width="1" height="48" fill="#c0c0c0"/>
<rect x="760" y="745" width="1" height="52" fill="#c0c0c0"/>
<rect x="764" y="745" width="1" height="50" fill="#c0c0c0"/>
<rect x="768" y="745" width="1" height="49" fill="#c0c0c0"/>
<rect x="772" y="745" width="1" height="48" fill="#c0c0c0"/>
<rect x="776" y="745" width="1" height="50" fill="#c0c0c0"/>
<rect x="780" y="745" width="1" height="47" fill="#c0c0c0"/>
<rect x="784" y="745" width="1" height="49" fill="#c0c0c0"/>
<rect x="788" y="745" width="1" height="47" fill="#c0c0c0"/>
<rect x="792" y="745" width="1" height="45" fill="#c0c0c0"/>
<rect x="796" y="745" width="1" height="42" fill="#c0c0c0"/>
<rect x="800" y="745" width="1" height="40" fill="#c0c0c0"/>
<rect x="804" y="745" width="1" height="38" fill="#c0c0c0"/>
<rect x="808" y="745" width="1" height="35" fill="#c0c0c0"/>
<rect x="812" y="745" width="1" height="35" fill="#c0c0c0"/>
<rect x="816" y="745" width="1" height="35" fill="#c0c0c0"/>
<rect x="820" y="745" width="1" height="34" fill="#c0c0c0"/>
<rect x="824" y="745" width="1" height="32" fill="#c0c0c0"/>
<rect x="828" y="745" width="1" height="30" fill="#c0c0c0"/>
<rect x="832" y="745" width="1" height="30" fill="#c0c0c0"/>
<rect x="836" y="745" width="1" height="31" fill="#c0c0c0"/>
<rect x="840" y="745" width="1" height="31" fill="#c0c0c0"/>
<rect x="844" y="745" width="1" height="31" fill="#c0c0c0"/>
<rect x="848" y="745" width="1" height="31" fill="#c0c0c0"/>
<rect x="852" y="745" width="1" height="28" fill="#c0c0c0"/>
<rect x="856" y="745" width="1" height="23" fill="#c0c0c0"/>
<rect x="860" y="745" width="1" height="17" fill="#c0c0c0"/>
<rect x="864" y="745" width="1" height="9" fill="#c0c0c0"/>
<rect x="868" y="745" width="1" height="4" fill="#c0c0c0"/>
<rect x="872" y="742" width="1" height="4" fill="#c0c0c0"/>
<rect x="876" y="737" width="1" height="9" fill="#c0c0c0"/>
<rect x="880" y="735" width="1" height="11" fill="#c0c0c0"/>
<rect x="884" y="732" width="1" height="14" fill="#c0c0c0"/>
<rect x="888" y="729" width="1" height="17" fill="#c0c0c0"/>
<rect x="892" y="727" width="1" height="19" fill="#c0c0c0"/>
<rect x="896" y="727" width="1" height="19" fill="#c0c0c0"/>
<rect x="900" y="728" width="1" height="18" fill="#c0c0c0"/>
<rect x="904" y="729" width="1" height="17" fill="#c0c0c0"/>
<rect x="908" y="734" width="1" height="12" fill="#c0c0c0"/>
<rect x="912" y="740" width="1" height="6" fill="#c0c0c0"/>
<rect x="916" y="745" width="1" height="1" fill="#c0c0c0"/>
<rect x="920" y="745" width="1" height="4" fill="#c0c0c0"/>
<rect x="924" y="745" width="1" height="5" fill="#c0c0c0"/>
<rect x="928" y="745" width="1" height="9" fill="#c0c0c0"/>
<rect x="932" y="745" width="1" height="12" fill="#c0c0c0"/>
<rect x="936" y="745" width="1" height="13" fill="#c0c0c0"/>
<rect x="940" y="745" width="1" height="14" fill="#c0c0c0"/>
<rect x="944" y="745" width="1" height="16" fill="#c0c0c0"/>
<rect x="948" y="745" width="1" height="20" fill="#c0c0c0"/>
<rect x="952" y="745" width="1" height="24" fill="#c0c0c0"/>
<rect x="956" y="745" width="1" height="23" fill="#c0c0c0"/>
<rect x="960" y="745" width="1" height="20" fill="#c0c0c0"/>
<rect x="964" y="745" width="1" height="18" fill="#c0c0c0"/>
<rect x="968" y="745" width="1" height="18" fill="#c0c0c0"/>
<rect x="972" y="745" width="1" height="19" fill="#c0c0c0"/>
<rect x="976" y="745" width="1" height="19" fill="#c0c0c0"/>
<rect x="980" y="745" width="1" height="16" fill="#c0c0c0"/>
<rect x="984" y="745" width="1" height="11" fill="#c0c0c0"/>
<rect x="988" y="745" width="1" height="8" fill="#c0c0c0"/>
<rect x="992" y="745" width="1" height="7" fill="#c0c0c0"/>
<rect x="996" y="745" width="1" height="7" fill="#c0c0c0"/>
<rect x="1000" y="745" width="1" height="8" fill="#c0c0c0"/>
<rect x="1004" y="745" width="1" height="3" fill="#c0c0c0"/>
<rect x="1008" y="741" width="1" height="5" fill="#c0c0c0"/>
<rect x="1012" y="737" width="1" height="9" fill="#c0c0c0"/>
<rect x="1016" y="732" width="1" height="14" fill="#c0c0c0"/>
<rect x="1020" y="729" width="1" height="17" fill="#c0c0c0"/>
<rect x="1024" y="728" width="1" height="18" fill="#c0c0c0"/>
<rect x="1028" y="730" width="1" height="16" fill="#c0c0c0"/>
<rect x="1032" y="730" width="1" height="16" fill="#c0c0c0"/>
<rect x="1036" y="731" width="1" height="15" fill="#c0c0c0"/>
<rect x="1040" y="731" width="1" height="15" fill="#c0c0c0"/>
<rect x="1044" y="729" width="1" height="17" fill="#c0c0c0"/>
<rect x="1048" y="727" width="1" height="19" fill="#c0c0c0"/>
<rect x="1052" y="725" width="1" height="21" fill="#c0c0c0"/>
<rect x="1056" y="721" width="1" height="25" fill="#c0c0c0"/>
<rect x="1060" y="720" width="1" height="26" fill="#c0c0c0"/>
<rect x="1064" y="719" width="1" height="27" fill="#c0c0c0"/>
<rect x="1068" y="719" width="1" height="27" fill="#c0c0c0"/>
<rect x="1072" y="720" width="1" height="26" fill="#c0c0c0"/>
<rect x="1076" y="721" width="1" height="25" fill="#c0c0c0"/>
<rect x="1080" y="724" width="1" height="22" fill="#c0c0c0"/>
<rect x="1084" y="727" width="1" height="19" fill="#c0c0c0"/>
<rect x="1088" y="730" width="1" height="16" fill="#c0c0c0"/>
<rect x="1092" y="733" width="1" height="13" fill="#c0c0c0"/>
<rect x="1096" y="736" width="1" height="10" fill="#c0c0c0"/>
<rect x="1100" y="743" width="1" height="3" fill="#c0c0c0"/>
<rect x="1104" y="745" width="1" height="1" fill="#c0c0c0"/>
<rect x="1108" y="745" width="1" height="3" fill="#c0c0c0"/>
<rect x="1112" y="745" width="1" height="4" fill="#c0c0c0"/>
<rect x="1116" y="745" width="1" height="5" fill="#c0c0c0"/>
<rect x="1120" y="745" width="1" height="6" fill="#c0c0c0"/>
<rect x="1124" y="745" width="1" height="8" fill="#c0c0c0"/>
<rect x="1128" y="745" width="1" height="10" fill="#c0c0c0"/>
<rect x="1132" y="745" width="1" height="12" fill="#c0c0c0"/>
<rect x="1136" y="745" width="1" height="14" fill="#c0c0c0"/>
<rect x="1140" y="745" width="1" height="15" fill="#c0c0c0"/>
<rect x="1144" y="745" width="1" height="15" fill="#c0c0c0"/>
<rect x="1148" y="745" width="1" height="17" fill="#c0c0c0"/>
<rect x="1152" y="745" width="1" height="18" fill="#c0c0c0"/>
<rect x="1156" y="745" width="1" height="19" fill="#c0c0c0"/>
<rect x="1160" y="745" width="1" height="15" fill="#c0c0c0"/>
<rect x="1164" y="745" width="1" height="11" fill="#c0c0c0"/>
<rect x="1168" y="745" width="1" height="6" fill="#c0c0c0"/>
<rect x="1172" y="745" width="1" height="4" fill="#c0c0c0"/>
<rect x="1176" y="745" width="1" height="2" fill="#c0c0c0"/>
<rect x="1180" y="745" width="1" height="1" fill="#c0c0c0"/>
<rect x="1184" y="743" width="1" height="3" fill="#c0c0c0"/>
<rect x="1188" y="744" width="1" height="2" fill="#c0c0c0"/>
<rect x="1192" y="742" width="1" height="4" fill="#c0c0c0"/>
<rect x="1196" y="736" width="1" height="10" fill="#c0c0c0"/>
<rect x="1200" y="734" width="1" height="12" fill="#c0c0c0"/>
<rect x="1204" y="733" width="1" height="13" fill="#c0c0c0"/>
<rect x="1208" y="730" width="1" height="16" fill="#c0c0c0"/>
<rect x="1212" y="731" width="1" height="15" fill="#c0c0c0"/>
<rect x="1216" y="732" width="1" height="14" fill="#c0c0c0"/>
<rect x="1220" y="731" width="1" height="15" fill="#c0c0c0"/>
<rect x="1224" y="729" width="1" height="17" fill="#c0c0c0"/>
<rect x="1228" y="728" width="1" height="18" fill="#c0c0c0"/>
<rect x="1232" y="726" width="1" height="20" fill="#c0c0c0"/>
<rect x="1236" y="723" width="1" height="23" fill="#c0c0c0"/>
<rect x="1240" y="722" width="1" height="24" fill="#c0c0c0"/>
<rect x="1244" y="721" width="1" height="25" fill="#c0c0c0"/>
<rect x="1248" y="716" width="1" height="30" fill="#c0c0c0"/>
<rect x="1252" y="714" width="1" height="32" fill="#c0c0c0"/>
<rect x="1256" y="711" width="1" height="35" fill="#c0c0c0"/>
<rect x="1260" y="707" width="1" height="39" fill="#c0c0c0"/>
<rect x="1264" y="705" width="1" height="41" fill="#c0c0c0"/>
<rect x="1268" y="705" width="1" height="41" fill="#c0c0c0"/>
<rect x="1272" y="708" width="1" height="38" fill="#c0c0c0"/>
<rect x="1276" y="711" width="1" height="35" fill="#c0c0c0"/>
<rect x="1280" y="716" width="1" height="30" fill="#c0c0c0"/>
<rect x="1284" y="724" width="1" height="22" fill="#c0c0c0"/>
<rect x="1288" y="732" width="1" height="14" fill="#c0c0c0"/>
<rect x="1292" y="739" width="1" height="7" fill="#c0c0c0"/>
<rect x="1296" y="740" width="1" height="6" fill="#c0c0c0"/>
<rect x="1300" y="741" width="1" height="5" fill="#c0c0c0"/>
<rect x="1304" y="742" width="1" height="4" fill="#c0c0c0"/>
</g>
<polyline points="4.5,785.1 8.5,787.0 12.5,789.3 16.5,791.2 20.5,792.3 24.5,792.9 28.5,791.5 32.5,788.8 36.5,785.7 40.5,782.0 44.5,777.7 48.5,772.8 52.5,766.9 56.5,760.7 60.5,754.7 64.5,748.7 68.5,744.0 72.5,740.1 76.5,737.0 80.5,734.5 84.5,735.3 88.5,735.2 92.5,736.1 96.5,737.1 100.5,738.1 104.5,738.8 108.5,739.7 112.5,740.3 116.5,739.8 120.5,738.5 124.5,736.6 128.5,734.4 132.5,732.2 136.5,731.0 140.5,730.8 144.5,731.3 148.5,732.6 152.5,735.6 156.5,739.4 160.5,743.5 164.5,747.7 168.5,751.9 172.5,755.1 176.5,757.2 180.5,758.3 184.5,758.4 188.5,758.2 192.5,757.4 196.5,756.6 200.5,755.2 204.5,753.5 208.5,752.1 212.5,751.1 216.5,750.6 220.5,751.0 224.5,751.2 228.5,751.8 232.5,753.1 236.5,755.2 240.5,757.7 244.5,760.3 248.5,762.7 252.5,764.4 256.5,765.4 260.5,766.2 264.5,766.4 268.5,765.8 272.5,764.6 276.5,763.0 280.5,761.2 284.5,759.2 288.5,757.4 292.5,755.9 296.5,754.2 300.5,752.4 304.5,751.0 308.5,750.1 312.5,749.3 316.5,748.6 320.5,747.9 324.5,747.7 328.5,747.1 332.5,746.6 336.5,746.5 340.5,746.2 344.5,745.6 348.5,744.8 352.5,743.8 356.5,742.9 360.5,741.3 364.5,739.7 368.5,738.0 372.5,736.3 376.5,734.5 380.5,733.0 384.5,731.9 388.5,731.2 392.5,730.8 396.5,731.3 400.5,733.0 404.5,735.9 408.5,739.2 412.5,742.9 416.5,746.6 420.5,750.3 424.5,754.0 428.5,757.8 432.5,761.3 436.5,764.0 440.5,766.0 444.5,767.6 448.5,768.9 452.5,770.3 456.5,771.4 460.5,772.4 464.5,773.2 468.5,774.1 472.5,775.2 476.5,776.4 480.5,778.1 484.5,780.1 488.5,781.7 492.5,783.6 496.5,785.5 500.5,787.0 504.5,787.9 508.5,788.1 512.5,787.7 516.5,786.4 520.5,784.7 524.5,782.8 528.5,780.5 532.5,777.8 536.5,774.9 540.5,771.7 544.5,768.7 548.5,765.4 552.5,762.1 556.5,758.6 560.5,755.3 564.5,752.4 568.5,750.0 572.5,748.5 576.5,748.2 580.5,748.8 584.5,750.2 588.5,752.3 592.5,754.9 596.5,757.2 600.5,759.2 604.5,760.7 608.5,761.3 612.5,760.7 616.5,759.1 620.5,756.6 624.5,753.4 628.5,749.7 632.5,746.3 636.5,743.1 640.5,739.8 644.5,736.8 648.5,734.7 652.5,733.2 656.5,732.4 660.5,732.6 664.5,733.4 668.5,733.9 672.5,734.4 676.5,734.9 680.5,735.3 684.5,735.3 688.5,735.2 692.5,734.5 696.5,733.3 700.5,731.8 704.5,730.4 708.5,729.5 712.5,729.4 716.5,730.1 720.5,731.7 724.5,734.1 728.5,737.1 732.5,740.9 736.5,745.2 740.5,750.0 744.5,755.3 748.5,760.7 752.5,766.2 756.5,771.3 760.5,776.3 764.5,780.6 768.5,784.1 772.5,787.3 776.5,790.0 780.5,791.7 784.5,793.0 788.5,793.4 792.5,793.1 796.5,792.0 800.5,790.9 804.5,789.7 808.5,788.3 812.5,786.6 816.5,785.2 820.5,783.6 824.5,781.9 828.5,780.3 832.5,779.0 836.5,777.9 840.5,777.1 844.5,776.6 848.5,776.2 852.5,775.5 856.5,774.2 860.5,772.6 864.5,770.3 868.5,767.3 872.5,763.7 876.5,759.5 880.5,755.0 884.5,750.2 888.5,745.3 892.5,740.9 896.5,737.1 900.5,734.2 904.5,732.1 908.5,731.3 912.5,731.5 916.5,732.6 920.5,734.5 924.5,736.8 928.5,739.7 932.5,743.0 936.5,746.3 940.5,749.6 944.5,752.5 948.5,755.2 952.5,757.8 956.5,759.8 960.5,761.5 964.5,762.4 968.5,763.0 972.5,763.6 976.5,764.1 980.5,764.1 984.5,763.1 988.5,761.3 992.5,759.6 996.5,758.1 1000.5,757.0 1004.5,755.3 1008.5,753.0 1012.5,750.1 1016.5,747.0 1020.5,744.1 1024.5,741.5 1028.5,739.1 1032.5,736.7 1036.5,734.5 1040.5,732.7 1044.5,731.4 1048.5,730.3 1052.5,729.5 1056.5,728.6 1060.5,727.7 1064.5,726.5 1068.5,725.2 1072.5,723.9 1076.5,722.8 1080.5,722.2 1084.5,722.1 1088.5,722.6 1092.5,724.0 1096.5,725.9 1100.5,728.5 1104.5,731.5 1108.5,734.6 1112.5,737.6 1116.5,740.4 1120.5,743.0 1124.5,745.5 1128.5,747.8 1132.5,750.0 1136.5,751.7 1140.5,753.2 1144.5,754.6 1148.5,755.9 1152.5,757.4 1156.5,758.8 1160.5,759.5 1164.5,759.6 1168.5,758.9 1172.5,757.8 1176.5,756.4 1180.5,754.7 1184.5,752.8 1188.5,750.9 1192.5,748.6 1196.5,746.0 1200.5,743.7 1204.5,741.8 1208.5,739.9 1212.5,738.2 1216.5,736.7 1220.5,735.4 1224.5,733.6 1228.5,732.1 1232.5,730.9 1236.5,729.7 1240.5,728.5 1244.5,727.4 1248.5,725.8 1252.5,723.8 1256.5,721.6 1260.5,719.1 1264.5,716.6 1268.5,714.2 1272.5,712.5 1276.5,711.3 1280.5,710.8 1284.5,711.7 1288.5,713.8 1292.5,716.9 1296.5,720.6 1300.5,724.6 1304.5,728.7" fill="none" stroke="#ff0000" stroke-width="1" stroke-dasharray="3,3" shape-rendering="crispEdges"/>
<text x="8" y="711" font-size="9.2" fill="#000" stroke="#000" stroke-width="0.25" textLength="147" lengthAdjust="spacingAndGlyphs">MACD(12,26,9) 0.000408 0.001905</text>
<rect x="1641" y="700" width="2" height="1" fill="#000"/>
<text x="1644.2" y="708" font-size="9.2" fill="#000" stroke="#000" stroke-width="0.25" textLength="37.6" lengthAdjust="spacingAndGlyphs">0.005076</text>
<rect x="1641" y="745" width="2" height="1" fill="#000"/>
<text x="1644.2" y="748" font-size="9.2" fill="#000" stroke="#000" stroke-width="0.25" textLength="17.4" lengthAdjust="spacingAndGlyphs">0.00</text>
<rect x="1641" y="800" width="2" height="1" fill="#000"/>
<text x="1644.2" y="796.5" font-size="9.2" fill="#000" stroke="#000" stroke-width="0.25" textLength="41.5" lengthAdjust="spacingAndGlyphs">-0.006148</text>
<rect x="4" y="802" width="1" height="3" fill="#000"/>
<text x="3" y="814" font-size="9.1" fill="#000" stroke="#000" stroke-width="0.25">29 Dec 2018</text>
<rect x="68" y="802" width="1" height="3" fill="#000"/>
<text x="67" y="814" font-size="9.1" fill="#000" stroke="#000" stroke-width="0.25">17 Jan 2019</text>
<rect x="132" y="802" width="1" height="3" fill="#000"/>
<text x="131" y="814" font-size="9.1" fill="#000" stroke="#000" stroke-width="0.25">5 Feb 2019</text>
<rect x="196" y="802" width="1" height="3" fill="#000"/>
<text x="195" y="814" font-size="9.1" fill="#000" stroke="#000" stroke-width="0.25">23 Feb 2019</text>
<rect x="260" y="802" width="1" height="3" fill="#000"/>
<text x="259" y="814" font-size="9.1" fill="#000" stroke="#000" stroke-width="0.25">14 Mar 2019</text>
<rect x="324" y="802" width="1" height="3" fill="#000"/>
<text x="323" y="814" font-size="9.1" fill="#000" stroke="#000" stroke-width="0.25">2 Apr 2019</text>
<rect x="388" y="802" width="1" height="3" fill="#000"/>
<text x="387" y="814" font-size="9.1" fill="#000" stroke="#000" stroke-width="0.25">20 Apr 2019</text>
<rect x="452" y="802" width="1" height="3" fill="#000"/>
<text x="451" y="814" font-size="9.1" fill="#000" stroke="#000" stroke-width="0.25">9 May 2019</text>
<rect x="516" y="802" width="1" height="3" fill="#000"/>
<text x="515" y="814" font-size="9.1" fill="#000" stroke="#000" stroke-width="0.25">28 May 2019</text>
<rect x="580" y="802" width="1" height="3" fill="#000"/>
<text x="579" y="814" font-size="9.1" fill="#000" stroke="#000" stroke-width="0.25">15 Jun 2019</text>
<rect x="644" y="802" width="1" height="3" fill="#000"/>
<text x="643" y="814" font-size="9.1" fill="#000" stroke="#000" stroke-width="0.25">4 Jul 2019</text>
<rect x="708" y="802" width="1" height="3" fill="#000"/>
<text x="707" y="814" font-size="9.1" fill="#000" stroke="#000" stroke-width="0.25">23 Jul 2019</text>
<rect x="772" y="802" width="1" height="3" fill="#000"/>
<text x="771" y="814" font-size="9.1" fill="#000" stroke="#000" stroke-width="0.25">10 Aug 2019</text>
<rect x="836" y="802" width="1" height="3" fill="#000"/>
<text x="835" y="814" font-size="9.1" fill="#000" stroke="#000" stroke-width="0.25">29 Aug 2019</text>
<rect x="900" y="802" width="1" height="3" fill="#000"/>
<text x="899" y="814" font-size="9.1" fill="#000" stroke="#000" stroke-width="0.25">17 Sep 2019</text>
<rect x="964" y="802" width="1" height="3" fill="#000"/>
<text x="963" y="814" font-size="9.1" fill="#000" stroke="#000" stroke-width="0.25">5 Oct 2019</text>
<rect x="1028" y="802" width="1" height="3" fill="#000"/>
<text x="1027" y="814" font-size="9.1" fill="#000" stroke="#000" stroke-width="0.25">24 Oct 2019</text>
<rect x="1092" y="802" width="1" height="3" fill="#000"/>
<text x="1091" y="814" font-size="9.1" fill="#000" stroke="#000" stroke-width="0.25">12 Nov 2019</text>
<rect x="1156" y="802" width="1" height="3" fill="#000"/>
<text x="1155" y="814" font-size="9.1" fill="#000" stroke="#000" stroke-width="0.25">30 Nov 2019</text>
<rect x="1220" y="802" width="1" height="3" fill="#000"/>
<text x="1219" y="814" font-size="9.1" fill="#000" stroke="#000" stroke-width="0.25">19 Dec 2019</text>
<rect x="1284" y="802" width="1" height="3" fill="#000"/>
<text x="1283" y="814" font-size="9.1" fill="#000" stroke="#000" stroke-width="0.25">7 Jan 2020</text>
<rect x="210" y="822" width="103" height="20" fill="#ffffff"/>
<rect x="209" y="824" width="1" height="18" fill="#000"/>
<rect x="312" y="824" width="1" height="18" fill="#000"/>
<rect x="0" y="824" width="1" height="18" fill="#000"/>
<text x="18" y="838.5" font-size="12" fill="#6d6d6d" textLength="79" lengthAdjust="spacingAndGlyphs">EURUSD,Daily</text>
<text x="119.1" y="838.5" font-size="12" fill="#6d6d6d" textLength="78.9" lengthAdjust="spacingAndGlyphs">USDCHF,Daily</text>
<text x="220.2" y="838.5" font-size="12" fill="#000" textLength="81.7" lengthAdjust="spacingAndGlyphs">AUDUSD,Daily</text>
<text x="324" y="838.5" font-size="12" fill="#6d6d6d" textLength="81" lengthAdjust="spacingAndGlyphs">USDCAD,Daily</text>
<text x="428" y="838.5" font-size="12" fill="#6d6d6d" textLength="82" lengthAdjust="spacingAndGlyphs">USDCNH,Daily</text>
<rect x="109" y="827" width="1" height="13" fill="#555"/>
<rect x="417" y="827" width="1" height="13" fill="#555"/>
<rect x="521" y="827" width="1" height="13" fill="#555"/>
<polygon points="1659,829 1659,837 1655,833" fill="#a0a0a0"/>
<polygon points="1675,829 1675,837 1679,833" fill="#a0a0a0"/></svg>
</body></html>
